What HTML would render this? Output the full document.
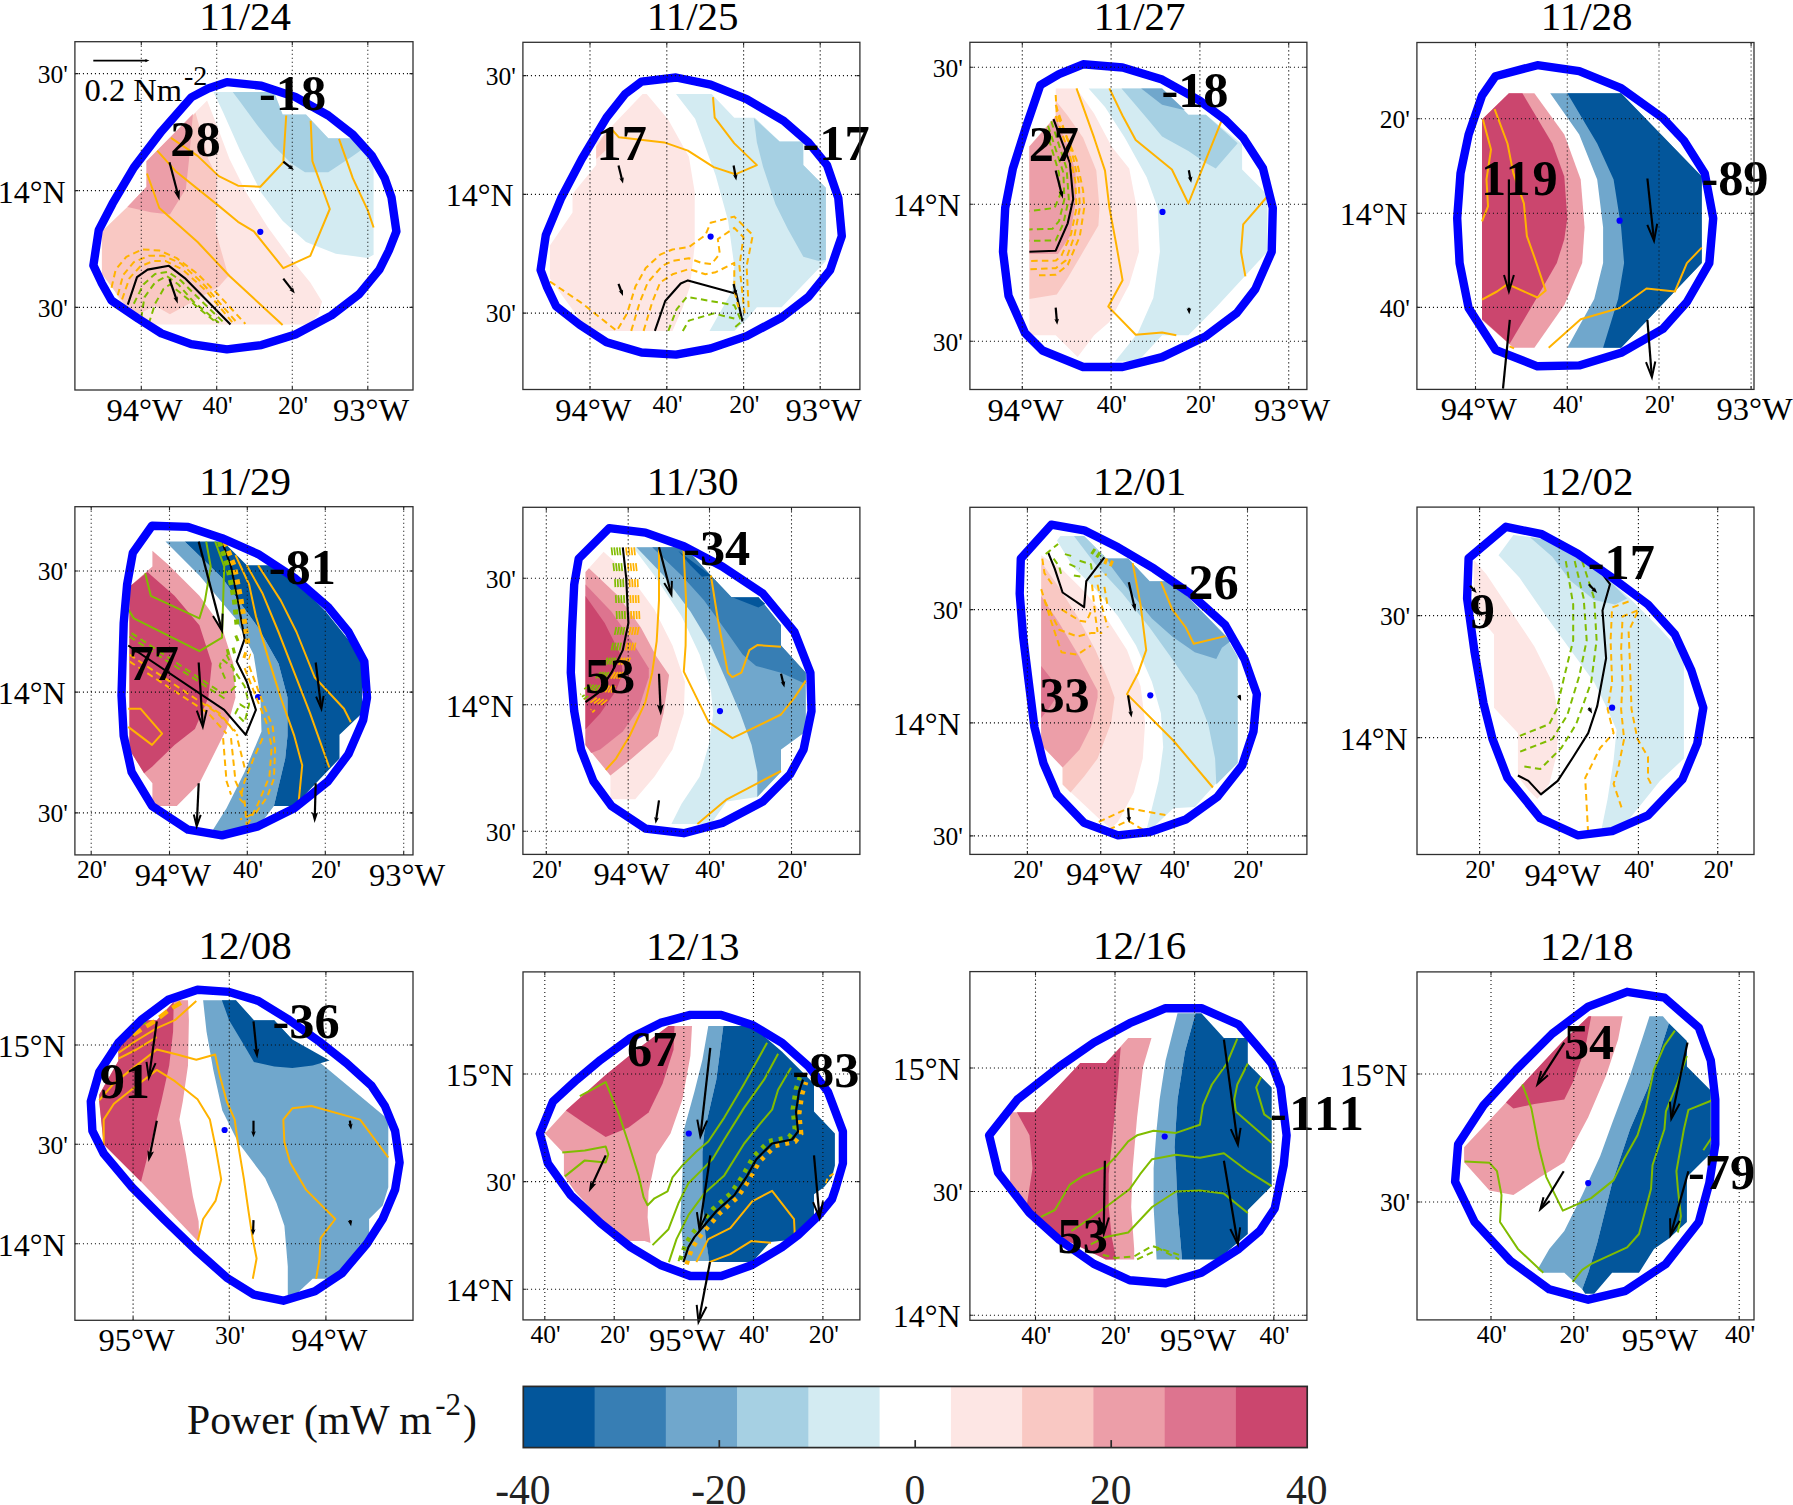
<!DOCTYPE html>
<html lang="en"><head><meta charset="utf-8"><title>Power maps</title>
<style>html,body{margin:0;padding:0;background:#fff}svg{display:block}</style></head>
<body>
<svg width="1793" height="1505" viewBox="0 0 1793 1505" font-family="'Liberation Serif', serif" fill="#000">
<rect width="1793" height="1505" fill="#fff"/>
<g id="panel1">
<clipPath id="c1"><polygon points="226.9,82.1 261.4,85.7 295.4,97 328.3,115.5 352.8,134.6 371.9,155.9 384.7,178.2 391.5,197.3 396.4,231.4 388.9,250.5 379.4,269.6 359.2,294.1 331.5,315.4 295.4,334.5 261.4,345.1 226.9,349.4 191.2,344.1 161.4,333.4 138,318.5 111.5,300.5 101.9,283.5 93.4,265.4 98.7,230.3 112.5,203.7 133.8,167.6 161.4,131.4 191.2,97.4 208.2,88.5"/></clipPath>
<clipPath id="b1"><rect x="74.9" y="41.7" width="338.1" height="348.3"/></clipPath>
<g clip-path="url(#c1)">
<polygon points="207.1,100.6 216.7,125.1 229.5,159.1 246.5,193.1 267.7,227.1 291.1,259 310.3,282.4 322,301.5 318.8,314.3 309.2,324.5 155.1,324.5 123.2,307.9 101.9,265.4 101.9,231.4 127.4,206.9 146.5,186.7 146.5,161.2 195.5,112.3" fill="#fde6e4"/>
<polygon points="195.5,112.7 200.8,131.4 208.2,159.1 216.7,176.1 215.7,231.4 228.4,276 218.8,286.7 189.1,303.7 169.9,314.3 155.1,305.8 133.8,316.4 101.9,273.9 101.9,231.4 127.4,206.9 146.5,186.7 146.5,161.2" fill="#f9c8c3"/>
<polygon points="146.5,161.2 192.9,114 189.1,159.1 185.9,188.8 169.9,214.4 150.8,212.2 127.4,206.9 146.5,186.7" fill="#ec9ea8"/>
<polygon points="213.5,92.1 274.1,92.1 282.6,114.4 306,114.4 328.3,138.2 352.8,138.2 373.6,159.1 373.6,254.8 367.7,257.9 335.8,253.7 306,242 282.6,220.7 261.4,193.1 240.1,150.6 223.1,112.3" fill="#d3ebf2"/>
<polygon points="232.7,92.1 274.1,92.1 282.6,114.4 306,114.4 328.3,138.2 352.8,138.2 363.4,148.4 352.8,155.9 328.3,172.3 305,172.3 291.1,163.3 274.1,146.3 257.1,125.1 240.1,101.7" fill="#a6d0e3"/>
</g>
<circle cx="260.3" cy="231.8" r="3.1" fill="#0000ff"/>
<g clip-path="url(#c1)">
<polyline points="171,137.8 197.6,155.9 218.8,176.1 238,185.7 260.3,186.7 283.3,162.3 286.2,115.5" fill="none" stroke="#ffb300" stroke-width="2" stroke-linejoin="round"/>
<polyline points="157.2,150.6 176.3,171.8 218.8,205.9 238,221.8 253.9,231.4 283.3,268.2 310.3,255.8 329.8,209 312.4,161.2 310.7,120.8" fill="none" stroke="#ffb300" stroke-width="2" stroke-linejoin="round"/>
<polyline points="147,173.5 159.3,208 197.6,242 229.5,276 282.6,324.9" fill="none" stroke="#ffb300" stroke-width="2" stroke-linejoin="round"/>
<polyline points="339,138.9 352.8,178.2 367.7,210.1 373.6,227.5" fill="none" stroke="#ffb300" stroke-width="2" stroke-linejoin="round"/>
<polyline points="127.8,304.7 137,277.1 147.6,269.6 168.9,265.8 184.8,278.1 230.5,324.5" fill="none" stroke="#000" stroke-width="2.1" stroke-linejoin="round"/>
<polyline points="111.5,287.7 115.7,269.6 126.3,256.9 142.3,249.4 159.3,250.5 176.3,257.9 197.6,273.9 218.8,295.2 245.4,323.9" fill="none" stroke="#ffb300" stroke-width="2" stroke-dasharray="6.5 4.2" stroke-linejoin="round"/>
<polyline points="117.8,295.2 123.2,275 133.8,262.2 148.7,255.8 163.6,255.8 180.6,263.3 201.8,282.4 238,323.9" fill="none" stroke="#ffb300" stroke-width="2" stroke-dasharray="6.5 4.2" stroke-linejoin="round"/>
<polyline points="122.1,299.4 129.5,278.1 140.2,266.5 152.9,261.1 165.7,261.1 182.7,269.6 206.1,290.9 233.7,323.9" fill="none" stroke="#ffb300" stroke-width="2" stroke-dasharray="6.5 4.2" stroke-linejoin="round"/>
<polyline points="133.8,303.7 143.4,284.5 155.1,273.9 167.8,271.8 180.6,280.3 197.6,297.3 225.2,323.9" fill="none" stroke="#80bc00" stroke-width="2" stroke-dasharray="6.5 4.2" stroke-linejoin="round"/>
<polyline points="141.2,318.5 144.4,297.3 155.1,282.4 166.7,276 178.4,284.5 193.3,301.5 218.8,322.8" fill="none" stroke="#80bc00" stroke-width="2" stroke-dasharray="6.5 4.2" stroke-linejoin="round"/>
<polyline points="148.7,323.9 155.1,303.7 163.6,288.8 169.9,284.5 180.6,293 206.1,314.3 216.7,322.8" fill="none" stroke="#80bc00" stroke-width="2" stroke-dasharray="6.5 4.2" stroke-linejoin="round"/>
</g>
<polygon points="226.9,82.1 261.4,85.7 295.4,97 328.3,115.5 352.8,134.6 371.9,155.9 384.7,178.2 391.5,197.3 396.4,231.4 388.9,250.5 379.4,269.6 359.2,294.1 331.5,315.4 295.4,334.5 261.4,345.1 226.9,349.4 191.2,344.1 161.4,333.4 138,318.5 111.5,300.5 101.9,283.5 93.4,265.4 98.7,230.3 112.5,203.7 133.8,167.6 161.4,131.4 191.2,97.4 208.2,88.5" fill="none" stroke="#0000ff" stroke-width="8.4" stroke-linejoin="round"/>
<path d="M141.3 41.7V390M216.7 41.7V390M292.3 41.7V390M367.8 41.7V390M74.9 73.6H413M74.9 190.6H413M74.9 307.4H413" stroke="#111" stroke-width="1.1" stroke-dasharray="1.1 2.9" fill="none"/>
<path d="M141.3 41.7v3.5M141.3 390v-3.5M216.7 41.7v3.5M216.7 390v-3.5M292.3 41.7v3.5M292.3 390v-3.5M367.8 41.7v3.5M367.8 390v-3.5M74.9 73.6h3.5M413 73.6h-3.5M74.9 190.6h3.5M413 190.6h-3.5M74.9 307.4h3.5M413 307.4h-3.5" stroke="#222" stroke-width="1.1" fill="none"/>
<text x="259" y="110.1" font-size="50.3" font-weight="bold">-18</text>
<text x="170.3" y="155.8" font-size="50.3" font-weight="bold">28</text>
<line x1="169.5" y1="162.3" x2="177.9" y2="194.3" stroke="#000" stroke-width="2.2"/><polygon points="179.5,200.5 173.7,191 177.3,192.3 179.9,189.4" fill="#000"/>
<line x1="283.3" y1="161.6" x2="291.1" y2="167.9" stroke="#000" stroke-width="2.2"/><polygon points="293.9,170.1 287.8,168.2 290.2,167.1 290.7,164.6" fill="#000"/>
<line x1="283.3" y1="278.6" x2="292.6" y2="290.6" stroke="#000" stroke-width="2.2"/><polygon points="294.8,293.5 289.3,290.1 291.8,289.7 292.9,287.3" fill="#000"/>
<line x1="169.5" y1="279.2" x2="176.5" y2="299.7" stroke="#000" stroke-width="2.2"/><polygon points="177.8,303.7 173.4,297.8 176,298.4 177.7,296.3" fill="#000"/>
<line x1="93.3" y1="60.6" x2="146.8" y2="60.6" stroke="#000" stroke-width="1.9"/><polygon points="149.5,60.6 145,62.2 145.9,60.6 145,59" fill="#000"/>
<text x="84.5" y="101" font-size="32.5">0.2 Nm<tspan dx="2" dy="-16.5" font-size="28">-2</tspan></text>
<rect x="74.9" y="41.7" width="338.1" height="348.3" fill="none" stroke="#303030" stroke-width="1.3"/>
<text x="245.1" y="29.5" font-size="41" text-anchor="middle">11/24</text>
<text x="144.7" y="421" font-size="32.5" text-anchor="middle">94°W</text>
<text x="217.5" y="413.5" font-size="25.5" text-anchor="middle">40'</text>
<text x="293.1" y="413.5" font-size="25.5" text-anchor="middle">20'</text>
<text x="371.2" y="421" font-size="32.5" text-anchor="middle">93°W</text>
<text x="67.9" y="82.9" font-size="25.5" text-anchor="end">30'</text>
<text x="65.6" y="202.6" font-size="32" text-anchor="end">14°N</text>
<text x="67.9" y="316.7" font-size="25.5" text-anchor="end">30'</text>
</g>
<g id="panel2">
<clipPath id="c2"><polygon points="676,77.5 710.6,84.7 746.6,99.1 783.7,120.8 808.4,142.4 827,165.1 838.3,198 841.8,236.1 830.1,270.1 808.4,296.9 781.6,317.5 746.6,336.1 710.6,348.4 676,354.6 641.5,352.5 606.5,342.2 579.7,324.7 556.1,306.2 546.8,286.6 540.6,270.1 545.8,235.1 561.2,198 581.8,158.9 606.5,117.7 625.1,94 641.5,81.6"/></clipPath>
<clipPath id="b2"><rect x="522.9" y="42.3" width="337" height="347.2"/></clipPath>
<g clip-path="url(#c2)">
<polygon points="642.6,94 646.7,94 668.3,119.7 688.9,156.8 694.7,191.9 694.7,245.4 690,286.6 682.8,307.2 672.5,330.9 588,330.9 549.9,278.4 549.9,245.4 572.5,212.5 572.5,193.9 596.2,165.1 596.2,142.4 618.9,118.7" fill="#fde6e4"/>
<polygon points="596.2,146.5 606.5,132.1 605.5,150.6 596.2,158.9" fill="#f9c8c3"/>
<polygon points="676,94 711.6,94 734.3,117.7 754.9,117.7 779.6,141.4 803.3,141.4 803.3,165.1 825.9,187.7 825.9,260.9 781.6,307.2 756.9,307.2 746.6,319.6 734.3,330.9 709.5,330.9 732.2,290.7 734.3,266 728.1,220.7 715.7,175.4 695.1,118.7" fill="#d3ebf2"/>
<polygon points="753.8,118.1 779.6,141.4 803.3,141.4 803.3,165.1 825.9,187.7 825.9,259.8 818.7,260.9 803.3,256.7 787.8,228.9 775.5,204.2 763.1,167.1 756.9,142.4" fill="#a6d0e3"/>
</g>
<circle cx="710.6" cy="236.6" r="3.1" fill="#0000ff"/>
<g clip-path="url(#c2)">
<polyline points="610.6,128 618.9,137.3 664.2,142.4 687.9,150.6 713.7,167.1 735.3,174.3 756.9,165.1 734.3,143.4 714.7,117.7 713,97.1" fill="none" stroke="#ffb300" stroke-width="2" stroke-linejoin="round"/>
<polyline points="654.9,330.9 665.2,301 680.7,283.5 687.9,280.4 736.3,293.8 742.5,321.6" fill="none" stroke="#000" stroke-width="2.1" stroke-linejoin="round"/>
<polyline points="549.9,281.5 581.8,303.1 616.8,330.9 627.1,313.4 635.4,286.6 645.7,268.1 660.1,254.7 672.5,249.5 688.9,247.1 705.4,235.1 710.6,222.8 734.3,216.6 752.8,235.1 746.6,266 748.7,309.3" fill="none" stroke="#ffb300" stroke-width="2" stroke-dasharray="6.5 4.2" stroke-linejoin="round"/>
<polyline points="631.2,330.9 639.5,303.1 647.7,282.5 662.2,266 672.5,260.9 688.9,258.2 701.3,262.9 711.6,264 719.8,253.7 717.8,239.2 734.3,227.9 743.5,237.2 739.4,266 744.6,313.4" fill="none" stroke="#ffb300" stroke-width="2" stroke-dasharray="6.5 4.2" stroke-linejoin="round"/>
<polyline points="643.6,330.9 651.9,303.1 660.1,282.5 672.5,274.3 688.9,269.1 705.4,274.3 715.7,272.2 734.3,262.9 734.3,290.7 738.4,307.2" fill="none" stroke="#ffb300" stroke-width="2" stroke-dasharray="6.5 4.2" stroke-linejoin="round"/>
<polyline points="668.3,330.9 676.6,309.3 686.9,296.9 734.3,305.2 741.5,321.6 734.3,327.8" fill="none" stroke="#80bc00" stroke-width="2" stroke-dasharray="6.5 4.2" stroke-linejoin="round"/>
<polyline points="682.8,330.9 688.9,320.6 713.7,313.4 734.3,318.5" fill="none" stroke="#80bc00" stroke-width="2" stroke-dasharray="6.5 4.2" stroke-linejoin="round"/>
</g>
<polygon points="676,77.5 710.6,84.7 746.6,99.1 783.7,120.8 808.4,142.4 827,165.1 838.3,198 841.8,236.1 830.1,270.1 808.4,296.9 781.6,317.5 746.6,336.1 710.6,348.4 676,354.6 641.5,352.5 606.5,342.2 579.7,324.7 556.1,306.2 546.8,286.6 540.6,270.1 545.8,235.1 561.2,198 581.8,158.9 606.5,117.7 625.1,94 641.5,81.6" fill="none" stroke="#0000ff" stroke-width="8.4" stroke-linejoin="round"/>
<path d="M590 42.3V389.5M666.8 42.3V389.5M743.6 42.3V389.5M820.2 42.3V389.5M522.9 75.6H859.9M522.9 194.4H859.9M522.9 313.1H859.9" stroke="#111" stroke-width="1.1" stroke-dasharray="1.1 2.9" fill="none"/>
<path d="M590 42.3v3.5M590 389.5v-3.5M666.8 42.3v3.5M666.8 389.5v-3.5M743.6 42.3v3.5M743.6 389.5v-3.5M820.2 42.3v3.5M820.2 389.5v-3.5M522.9 75.6h3.5M859.9 75.6h-3.5M522.9 194.4h3.5M859.9 194.4h-3.5M522.9 313.1h3.5M859.9 313.1h-3.5" stroke="#222" stroke-width="1.1" fill="none"/>
<text x="596.6" y="159.9" font-size="50.3" font-weight="bold">17</text>
<text x="802.6" y="159.9" font-size="50.3" font-weight="bold">-17</text>
<line x1="618.5" y1="165.5" x2="622.1" y2="180.1" stroke="#000" stroke-width="2.2"/><polygon points="623,183.6 619.3,178.3 621.8,179 623.8,177.2" fill="#000"/>
<line x1="733.6" y1="165.5" x2="735.7" y2="177" stroke="#000" stroke-width="2.2"/><polygon points="736.3,180.5 733,175 735.5,175.8 737.5,174.2" fill="#000"/>
<line x1="618.5" y1="283.9" x2="621.7" y2="292.5" stroke="#000" stroke-width="2.2"/><polygon points="623,295.9 618.7,291.1 621.3,291.4 623,289.5" fill="#000"/>
<line x1="733.6" y1="283.9" x2="735.5" y2="292.4" stroke="#000" stroke-width="2.2"/><polygon points="736.3,295.9 732.8,290.5 735.3,291.2 737.2,289.5" fill="#000"/>
<rect x="522.9" y="42.3" width="337" height="347.2" fill="none" stroke="#303030" stroke-width="1.3"/>
<text x="692.6" y="30.1" font-size="41" text-anchor="middle">11/25</text>
<text x="593.4" y="420.5" font-size="32.5" text-anchor="middle">94°W</text>
<text x="667.6" y="413" font-size="25.5" text-anchor="middle">40'</text>
<text x="744.4" y="413" font-size="25.5" text-anchor="middle">20'</text>
<text x="823.6" y="420.5" font-size="32.5" text-anchor="middle">93°W</text>
<text x="515.9" y="84.9" font-size="25.5" text-anchor="end">30'</text>
<text x="513.6" y="206.4" font-size="32" text-anchor="end">14°N</text>
<text x="515.9" y="322.4" font-size="25.5" text-anchor="end">30'</text>
</g>
<g id="panel3">
<clipPath id="c3"><polygon points="1083.1,64.3 1122.6,67.5 1162.1,79.6 1199.3,100.4 1225.7,120.2 1243.2,137.7 1263,168.4 1272.8,207.9 1271.7,251.8 1255.3,289.1 1236.6,313.2 1205.9,336.2 1162.1,357.1 1122.6,367 1083.1,367 1042.5,350.5 1025,333 1008.5,295.7 1003,251.8 1005.2,207.9 1012.9,168.4 1026.1,126.8 1040.3,85.1 1059,74.1"/></clipPath>
<clipPath id="b3"><rect x="969.9" y="42.3" width="337" height="347.2"/></clipPath>
<g clip-path="url(#c3)">
<polygon points="1055.7,88.4 1076.5,88.4 1094.1,113.6 1111.6,146.5 1129.2,168.4 1136.8,207.9 1139,251.8 1129.2,284.7 1109.4,322 1094.1,335.2 1077.6,357.1 1055.7,335.2 1029.4,335.2 1029.4,146.5 1055.7,115.8" fill="#fde6e4"/>
<polygon points="1055.7,100.4 1067.7,115.8 1083.1,137.7 1096.3,170.6 1099.5,207.9 1098.4,225.5 1083.1,251.8 1067.7,278.1 1056.8,294.6 1029.4,299 1029.4,146.5 1055.7,115.8" fill="#f9c8c3"/>
<polygon points="1029.4,146.5 1055.7,116.9 1067.7,146.5 1075.4,170.6 1076.1,199.2 1069.9,236.4 1057.9,254 1029.4,254" fill="#ec9ea8"/>
<polygon points="1088.6,88.4 1162.1,88.4 1188.4,114.7 1205.9,114.7 1242.1,144.3 1242.1,169.5 1267.3,194.8 1267.3,251.8 1243.2,278.1 1216.9,306.6 1188.4,335.2 1162.1,335.2 1137.9,361.5 1114.9,361.5 1137.9,333 1153.3,297.9 1159.9,251.8 1157.7,207.9 1146.7,177.2 1124.8,137.7 1105,107" fill="#d3ebf2"/>
<polygon points="1121.5,88.4 1162.1,88.4 1188.4,114.7 1205.9,114.7 1237.7,143.2 1215.8,168.4 1205.9,163 1188.4,150.9 1162.1,136.6 1146.7,118 1133.5,102.6" fill="#a6d0e3"/>
<polygon points="1141.2,88.4 1162.1,88.4 1185.1,110.3 1162.1,104.8" fill="#70a7cc"/>
</g>
<circle cx="1162.5" cy="211.9" r="3.1" fill="#0000ff"/>
<g clip-path="url(#c3)">
<polyline points="1076.5,88.4 1094.1,137.7 1105,170.6 1109.4,207.9 1116,243 1122.6,280.3 1108.3,306.6 1135.7,334.7 1162.1,332.5 1176.3,335.2" fill="none" stroke="#ffb300" stroke-width="2" stroke-linejoin="round"/>
<polyline points="1109.4,88.4 1122.6,115.8 1135.7,139.9 1171.9,169.5 1188.4,203.5 1205.9,159.7 1221.3,121.3" fill="none" stroke="#ffb300" stroke-width="2" stroke-linejoin="round"/>
<polyline points="1266.9,197 1243.2,224.4 1241,251.8 1245.4,276.4" fill="none" stroke="#ffb300" stroke-width="2" stroke-linejoin="round"/>
<polyline points="1053.5,119.1 1069.9,163 1073.2,199.2 1067.7,223.3 1055.7,250.7 1029.4,251.8" fill="none" stroke="#000" stroke-width="2.1" stroke-linejoin="round"/>
<polyline points="1055.7,95 1056.8,113.6 1076.5,159.7 1083.1,190.4 1084.2,207.9 1079.8,236.4 1067.7,265 1055.7,274.8 1034.8,275.5" fill="none" stroke="#ffb300" stroke-width="2" stroke-dasharray="6.5 4.2" stroke-linejoin="round"/>
<polyline points="1055.7,104.8 1072.1,153.1 1078.7,181.6 1079.8,207.9 1074.3,236.4 1065.5,260.6 1055.7,268.2 1029.4,269.3" fill="none" stroke="#ffb300" stroke-width="2" stroke-dasharray="6.5 4.2" stroke-linejoin="round"/>
<polyline points="1055.7,115.8 1069.9,155.3 1075.4,181.6 1076.5,207.9 1071,234.3 1061.2,256.2 1055.7,260.6 1029.4,261" fill="none" stroke="#ffb300" stroke-width="2" stroke-dasharray="6.5 4.2" stroke-linejoin="round"/>
<polyline points="1051.3,121.3 1066.6,168.4 1068.8,199.2 1063.4,223.3 1055.7,240.4 1029.4,240.8" fill="none" stroke="#80bc00" stroke-width="2" stroke-dasharray="6.5 4.2" stroke-linejoin="round"/>
<polyline points="1048,125.7 1063.4,172.8 1064.4,199.2 1059,221.1 1052.4,228.8 1029.4,229.4" fill="none" stroke="#80bc00" stroke-width="2" stroke-dasharray="6.5 4.2" stroke-linejoin="round"/>
<polyline points="1045.8,129 1059,172.8 1060.1,194.8 1054.6,207.9 1029.4,211.2" fill="none" stroke="#80bc00" stroke-width="2" stroke-dasharray="6.5 4.2" stroke-linejoin="round"/>
</g>
<polygon points="1083.1,64.3 1122.6,67.5 1162.1,79.6 1199.3,100.4 1225.7,120.2 1243.2,137.7 1263,168.4 1272.8,207.9 1271.7,251.8 1255.3,289.1 1236.6,313.2 1205.9,336.2 1162.1,357.1 1122.6,367 1083.1,367 1042.5,350.5 1025,333 1008.5,295.7 1003,251.8 1005.2,207.9 1012.9,168.4 1026.1,126.8 1040.3,85.1 1059,74.1" fill="none" stroke="#0000ff" stroke-width="8.4" stroke-linejoin="round"/>
<path d="M1022.3 42.3V389.5M1111.1 42.3V389.5M1199.9 42.3V389.5M1288.7 42.3V389.5M969.9 67.3H1306.9M969.9 204.2H1306.9M969.9 341.2H1306.9" stroke="#111" stroke-width="1.1" stroke-dasharray="1.1 2.9" fill="none"/>
<path d="M1022.3 42.3v3.5M1022.3 389.5v-3.5M1111.1 42.3v3.5M1111.1 389.5v-3.5M1199.9 42.3v3.5M1199.9 389.5v-3.5M1288.7 42.3v3.5M1288.7 389.5v-3.5M969.9 67.3h3.5M1306.9 67.3h-3.5M969.9 204.2h3.5M1306.9 204.2h-3.5M969.9 341.2h3.5M1306.9 341.2h-3.5" stroke="#222" stroke-width="1.1" fill="none"/>
<text x="1028.7" y="160.7" font-size="50.3" font-weight="bold">27</text>
<text x="1161.4" y="106.9" font-size="50.3" font-weight="bold">-18</text>
<line x1="1055.7" y1="170.6" x2="1061.7" y2="194.2" stroke="#000" stroke-width="2.2"/><polygon points="1062.9,198.7 1058.7,191.7 1061.3,192.7 1063.2,190.5" fill="#000"/>
<line x1="1188.8" y1="170.2" x2="1190.5" y2="179.2" stroke="#000" stroke-width="2.2"/><polygon points="1191.2,182.7 1187.8,177.2 1190.3,178 1192.4,176.4" fill="#000"/>
<line x1="1055.7" y1="307.7" x2="1056.9" y2="321.3" stroke="#000" stroke-width="2.2"/><polygon points="1057.2,324.8 1054.4,319.1 1056.8,320.1 1059,318.7" fill="#000"/>
<line x1="1188.8" y1="307.7" x2="1189" y2="310.7" stroke="#000" stroke-width="2.2"/><polygon points="1189.3,314.3 1186.6,308.5 1188.9,309.5 1191.2,308.2" fill="#000"/>
<rect x="969.9" y="42.3" width="337" height="347.2" fill="none" stroke="#303030" stroke-width="1.3"/>
<text x="1139.6" y="30.1" font-size="41" text-anchor="middle">11/27</text>
<text x="1025.7" y="420.5" font-size="32.5" text-anchor="middle">94°W</text>
<text x="1111.9" y="413" font-size="25.5" text-anchor="middle">40'</text>
<text x="1200.7" y="413" font-size="25.5" text-anchor="middle">20'</text>
<text x="1292.1" y="420.5" font-size="32.5" text-anchor="middle">93°W</text>
<text x="962.9" y="76.6" font-size="25.5" text-anchor="end">30'</text>
<text x="960.6" y="216.2" font-size="32" text-anchor="end">14°N</text>
<text x="962.9" y="350.5" font-size="25.5" text-anchor="end">30'</text>
</g>
<g id="panel4">
<clipPath id="c4"><polygon points="1537.4,65.2 1579.2,71.2 1621.1,88.2 1662.9,118.1 1683.9,140.5 1704.8,173.4 1713.2,218.3 1709.3,263.1 1686.9,302 1662.9,328.9 1621.1,352.8 1579.2,365.4 1537.4,366.3 1495.5,349.8 1468.6,308 1459.6,263.1 1457.2,218.3 1460.5,173.4 1468.6,134.6 1482,95.7 1495.5,76.2"/></clipPath>
<clipPath id="b4"><rect x="1416.9" y="42.5" width="337.1" height="346.9"/></clipPath>
<g clip-path="url(#c4)">
<polygon points="1508.9,93.3 1534.4,93.3 1564.3,134.6 1580.7,179.4 1584.6,227.2 1582.2,263.1 1564.3,305 1534.4,347.7 1513.4,347.7 1482,319.9 1482,119.6" fill="#ec9ea8"/>
<polygon points="1508.9,93.3 1522.4,93.3 1552.3,143.5 1564.3,176.4 1567.3,218.3 1564.3,239.2 1556.8,263.1 1534.4,302 1509.5,343.9 1482,319.3 1482,119.6" fill="#cb466e"/>
<polygon points="1550.2,93.3 1621.1,93.3 1701.8,176.4 1701.8,263.1 1621.1,347.7 1567.3,347.7 1594.2,299 1603.1,263.1 1603.1,227.2 1597.2,179.4 1579.2,134.6" fill="#70a7cc"/>
<polygon points="1567.3,93.3 1621.1,93.3 1701.8,176.4 1701.8,263.1 1621.1,347.7 1603.1,347.7 1618.1,299 1624.1,263.1 1621.1,227.2 1613.6,179.4 1597.2,143.5" fill="#03569b"/>
</g>
<circle cx="1619.6" cy="220.7" r="3.1" fill="#0000ff"/>
<g clip-path="url(#c4)">
<polyline points="1482.9,119.6 1491,149.5 1486.5,179.4 1488,206.3 1482,221.3" fill="none" stroke="#ffb300" stroke-width="2" stroke-linejoin="round"/>
<polyline points="1494.6,109.1 1507.5,143.5 1513.4,173.4 1523.9,203.3 1526.9,236.2 1534.4,257.1 1545.7,290.6 1537.4,297.5 1507.5,284.1 1497,291.5 1482,299.6" fill="none" stroke="#ffb300" stroke-width="2" stroke-linejoin="round"/>
<polyline points="1509.5,346.3 1514,348.3" fill="none" stroke="#ffb300" stroke-width="2" stroke-linejoin="round"/>
<polyline points="1548.7,347.7 1580.7,319.3 1619.6,308 1646.5,288.5 1674.9,291.5 1686.9,263.1 1701.8,247.6" fill="none" stroke="#ffb300" stroke-width="2" stroke-linejoin="round"/>
</g>
<polygon points="1537.4,65.2 1579.2,71.2 1621.1,88.2 1662.9,118.1 1683.9,140.5 1704.8,173.4 1713.2,218.3 1709.3,263.1 1686.9,302 1662.9,328.9 1621.1,352.8 1579.2,365.4 1537.4,366.3 1495.5,349.8 1468.6,308 1459.6,263.1 1457.2,218.3 1460.5,173.4 1468.6,134.6 1482,95.7 1495.5,76.2" fill="none" stroke="#0000ff" stroke-width="8.4" stroke-linejoin="round"/>
<path d="M1475.5 42.5V389.4M1567.3 42.5V389.4M1659 42.5V389.4M1751.1 42.5V389.4M1416.9 118.7H1754M1416.9 213.2H1754M1416.9 307.4H1754" stroke="#111" stroke-width="1.1" stroke-dasharray="1.1 2.9" fill="none"/>
<path d="M1475.5 42.5v3.5M1475.5 389.4v-3.5M1567.3 42.5v3.5M1567.3 389.4v-3.5M1659 42.5v3.5M1659 389.4v-3.5M1751.1 42.5v3.5M1751.1 389.4v-3.5M1416.9 118.7h3.5M1754 118.7h-3.5M1416.9 213.2h3.5M1754 213.2h-3.5M1416.9 307.4h3.5M1754 307.4h-3.5" stroke="#222" stroke-width="1.1" fill="none"/>
<text x="1481.1" y="195.4" font-size="50.3" font-weight="bold" letter-spacing="2">119</text>
<text x="1701.4" y="195.4" font-size="50.3" font-weight="bold">-89</text>
<line x1="1508.9" y1="179.4" x2="1508.9" y2="289.5" stroke="#000" stroke-width="2.2"/><polyline points="1504,275 1508.9,291.5 1513.9,275" fill="none" stroke="#000" stroke-width="2" stroke-linejoin="miter"/>
<line x1="1647.4" y1="178.5" x2="1653.8" y2="238.7" stroke="#000" stroke-width="2.2"/><polyline points="1647.3,224.8 1654,240.7 1657.2,223.8" fill="none" stroke="#000" stroke-width="2" stroke-linejoin="miter"/>
<line x1="1509.8" y1="319.9" x2="1503" y2="388.7" stroke="#000" stroke-width="2.2"/>
<line x1="1647.4" y1="319.9" x2="1651.7" y2="375.4" stroke="#000" stroke-width="2.2"/><polyline points="1646,362.2 1651.9,377.3 1655.3,361.5" fill="none" stroke="#000" stroke-width="2" stroke-linejoin="miter"/>
<rect x="1416.9" y="42.5" width="337.1" height="346.9" fill="none" stroke="#303030" stroke-width="1.3"/>
<text x="1586.7" y="30.3" font-size="41" text-anchor="middle">11/28</text>
<text x="1478.9" y="420.4" font-size="32.5" text-anchor="middle">94°W</text>
<text x="1568.1" y="412.9" font-size="25.5" text-anchor="middle">40'</text>
<text x="1659.8" y="412.9" font-size="25.5" text-anchor="middle">20'</text>
<text x="1754.5" y="420.4" font-size="32.5" text-anchor="middle">93°W</text>
<text x="1409.9" y="128" font-size="25.5" text-anchor="end">20'</text>
<text x="1407.6" y="225.2" font-size="32" text-anchor="end">14°N</text>
<text x="1409.9" y="316.7" font-size="25.5" text-anchor="end">40'</text>
</g>
<g id="panel5">
<clipPath id="c5"><polygon points="152,525.8 188.1,526.9 222,538.2 258.1,554.1 294.3,577.8 328.2,607.1 348.5,632 364.3,661.4 367,697.5 363.2,720.1 348.5,754 328.2,781.1 294.3,808.2 258.1,826.3 222,835.3 188.1,829.7 152,805.9 131.6,772 123.7,735.9 121.5,695.2 123.7,623 127.1,584.5 132.8,552.9"/></clipPath>
<clipPath id="b5"><rect x="74.9" y="506.7" width="338.1" height="348.2"/></clipPath>
<g clip-path="url(#c5)">
<polygon points="152.4,550.7 167.8,564.2 199.4,595.8 222,627.5 233.3,663.6 235.5,697.5 226.5,729.1 199.4,783.3 176.8,805.9 152.4,805.9 152.4,783.3 144.1,773.2 129.4,749.5 129.4,586.8 152.4,566.5" fill="#ec9ea8"/>
<polygon points="129.4,586.8 147.4,572.1 174.5,595.8 199.4,625.2 211.8,663.6 208.4,697.5 194.9,729.1 174.5,744.9 152.4,766.4 144.1,773.2 129.4,749.5" fill="#cb466e"/>
<polygon points="165.5,541.6 184.7,541.6 222,577.8 258.1,627.5 278.5,663.6 287.5,697.5 287.5,735.9 285.2,758.5 273.9,805.9 267.2,815 258.1,826.3 222,835.3 213,829.7 226.5,808.2 244.6,772 261.5,731.4 260.4,697.5 253.6,654.6 235.5,618.4 199.4,575.5" fill="#70a7cc"/>
<polygon points="184.7,541.6 223.1,541.6 246.8,565.3 280.7,565.3 325.9,611.7 362,656.8 362,713.3 339.5,734.8 339.5,758.5 294.3,805.9 273.9,805.9 285.2,758.5 287.5,735.9 287.5,697.5 278.5,663.6 258.1,627.5 222,577.8" fill="#03569b"/>
</g>
<circle cx="258.1" cy="697" r="3.1" fill="#0000ff"/>
<g clip-path="url(#c5)">
<polyline points="235.5,555.2 249.1,584.5 255.9,616.2 267.2,654.6 280.7,697.5 294.3,735.9 302.2,765.3 298.8,800.3" fill="none" stroke="#ffb300" stroke-width="2" stroke-linejoin="round"/>
<polyline points="246.8,565.3 262.6,593.6 278.5,632 294.3,672.6 310.1,713.3 329.3,767.5" fill="none" stroke="#ffb300" stroke-width="2" stroke-linejoin="round"/>
<polyline points="258.1,565.3 280.7,600.4 296.5,632 314.6,677.2 344,708.8 350.8,722.3" fill="none" stroke="#ffb300" stroke-width="2" stroke-linejoin="round"/>
<polyline points="128.2,708.8 140.7,708.8 162.1,733.6 152,744.9 128.2,726.9" fill="none" stroke="#ffb300" stroke-width="2" stroke-linejoin="round"/>
<polyline points="145.2,573.3 150.8,595.8 199.4,618.4 205,600.4 210.7,566.5 206.2,541.6" fill="none" stroke="#80bc00" stroke-width="2" stroke-linejoin="round"/>
<polyline points="128.2,609.4 133.9,618.4 199.4,651.2 222,637.6 224.2,566.5 215.2,541.6" fill="none" stroke="#80bc00" stroke-width="2" stroke-linejoin="round"/>
<polyline points="222,541.6 231,566.5 237.8,600.4 244.6,638.8 236.7,661.4 246.8,681.7 255.9,709.9 245.7,734.8 224.2,709.9 128.2,645.5" fill="none" stroke="#000" stroke-width="2.1" stroke-linejoin="round"/>
<polyline points="219.3,541.6 227.6,566.5 234.4,600.4 237.3,627.5" fill="none" stroke="#80bc00" stroke-width="5" stroke-dasharray="5 5" stroke-linejoin="round"/>
<polyline points="224.7,541.6 234.4,566.5 241.2,600.4 246.8,636.5 248,645.5" fill="none" stroke="#ffb300" stroke-width="5" stroke-dasharray="5 5" stroke-linejoin="round"/>
<polyline points="235.5,638.8 241.2,636.5" fill="none" stroke="#80bc00" stroke-width="6" stroke-dasharray="3 3" stroke-linejoin="round"/>
<polyline points="226.5,652.3 235.5,650.1" fill="none" stroke="#80bc00" stroke-width="6" stroke-dasharray="3 3" stroke-linejoin="round"/>
<polyline points="243.4,654.6 250.2,656.8" fill="none" stroke="#ffb300" stroke-width="6" stroke-dasharray="3 3" stroke-linejoin="round"/>
<polyline points="129.4,636.5 226.5,699.8" fill="none" stroke="#80bc00" stroke-width="2" stroke-dasharray="6.5 4.2" stroke-linejoin="round"/>
<polyline points="131.6,633.1 222,693 231,690.7 235.5,686.2 233.3,668.1 222,659.1 219.7,665.9 226.5,681.7" fill="none" stroke="#80bc00" stroke-width="2" stroke-dasharray="6.5 4.2" stroke-linejoin="round"/>
<polyline points="226.5,654.6 235.5,672.6 244.6,686.2 249.1,704.3 244.6,722.3 235.5,713.3 240.1,704.3 246.8,708.8" fill="none" stroke="#80bc00" stroke-width="2" stroke-dasharray="6.5 4.2" stroke-linejoin="round"/>
<polyline points="129.4,654.6 217.5,713.3 235.5,731.4" fill="none" stroke="#ffb300" stroke-width="2" stroke-dasharray="6.5 4.2" stroke-linejoin="round"/>
<polyline points="129.4,661.4 208.4,713.3 226.5,733.6" fill="none" stroke="#ffb300" stroke-width="2" stroke-dasharray="6.5 4.2" stroke-linejoin="round"/>
<polyline points="206.2,704.3 219.7,713.3 237.8,735.9" fill="none" stroke="#ffb300" stroke-width="2" stroke-dasharray="6.5 4.2" stroke-linejoin="round"/>
<polyline points="223.1,738.2 226.5,781.1 231,794.6" fill="none" stroke="#ffb300" stroke-width="2" stroke-dasharray="6.5 4.2" stroke-linejoin="round"/>
<polyline points="231,738.2 235.5,781.1 244.6,801.4 246.8,826.3" fill="none" stroke="#ffb300" stroke-width="2" stroke-dasharray="6.5 4.2" stroke-linejoin="round"/>
<polyline points="237.8,740.4 244.6,767.5" fill="none" stroke="#ffb300" stroke-width="2" stroke-dasharray="6.5 4.2" stroke-linejoin="round"/>
<polyline points="244.6,668.1 258.1,702 267.2,724.6 271.7,747.2 269.4,776.6 258.1,803.7 246.8,826.3" fill="none" stroke="#ffb300" stroke-width="2" stroke-dasharray="6.5 4.2" stroke-linejoin="round"/>
<polyline points="249.1,665.9 262.6,702 272.8,726.9 275.1,749.5 273.9,778.8 267.2,796.9 255.9,812.7 240.1,819.5" fill="none" stroke="#ffb300" stroke-width="2" stroke-dasharray="6.5 4.2" stroke-linejoin="round"/>
<polyline points="262.6,738.2 253.6,758.5 244.6,781.1 240.1,799.2 246.8,805.9" fill="none" stroke="#ffb300" stroke-width="2" stroke-dasharray="6.5 4.2" stroke-linejoin="round"/>
</g>
<polygon points="152,525.8 188.1,526.9 222,538.2 258.1,554.1 294.3,577.8 328.2,607.1 348.5,632 364.3,661.4 367,697.5 363.2,720.1 348.5,754 328.2,781.1 294.3,808.2 258.1,826.3 222,835.3 188.1,829.7 152,805.9 131.6,772 123.7,735.9 121.5,695.2 123.7,623 127.1,584.5 132.8,552.9" fill="none" stroke="#0000ff" stroke-width="8.4" stroke-linejoin="round"/>
<path d="M91.2 506.7V854.9M169.5 506.7V854.9M247.3 506.7V854.9M325.3 506.7V854.9M403.7 506.7V854.9M74.9 571H413M74.9 692.1H413M74.9 812.9H413" stroke="#111" stroke-width="1.1" stroke-dasharray="1.1 2.9" fill="none"/>
<path d="M91.2 506.7v3.5M91.2 854.9v-3.5M169.5 506.7v3.5M169.5 854.9v-3.5M247.3 506.7v3.5M247.3 854.9v-3.5M325.3 506.7v3.5M325.3 854.9v-3.5M403.7 506.7v3.5M403.7 854.9v-3.5M74.9 571h3.5M413 571h-3.5M74.9 692.1h3.5M413 692.1h-3.5M74.9 812.9h3.5M413 812.9h-3.5" stroke="#222" stroke-width="1.1" fill="none"/>
<text x="128.7" y="680.4" font-size="50.3" font-weight="bold">77</text>
<text x="268.8" y="584.4" font-size="50.3" font-weight="bold">-81</text>
<line x1="198.7" y1="541.6" x2="221.5" y2="628.9" stroke="#000" stroke-width="2.2"/><polyline points="213,616.1 222,630.9 222.6,613.6" fill="none" stroke="#000" stroke-width="2" stroke-linejoin="miter"/>
<line x1="198.7" y1="662.5" x2="202.7" y2="724.9" stroke="#000" stroke-width="2.2"/><polyline points="196.8,710.7 202.8,726.9 206.7,710.1" fill="none" stroke="#000" stroke-width="2" stroke-linejoin="miter"/>
<line x1="315.7" y1="662.5" x2="321.1" y2="706.8" stroke="#000" stroke-width="2.2"/><polyline points="316.1,696.7 321.4,708.8 323.6,695.8" fill="none" stroke="#000" stroke-width="2" stroke-linejoin="miter"/>
<line x1="198.7" y1="783.3" x2="196.8" y2="824.3" stroke="#000" stroke-width="2.2"/><polyline points="193.8,814.5 196.7,826.3 200.7,814.8" fill="none" stroke="#000" stroke-width="2" stroke-linejoin="miter"/>
<line x1="315.7" y1="783.3" x2="314.8" y2="816.5" stroke="#000" stroke-width="2.2"/><polygon points="314.6,822.9 311.7,812.1 314.9,814.3 318.1,812.3" fill="#000"/>
<rect x="74.9" y="506.7" width="338.1" height="348.2" fill="none" stroke="#303030" stroke-width="1.3"/>
<text x="245.1" y="494.5" font-size="41" text-anchor="middle">11/29</text>
<text x="92" y="878.4" font-size="25.5" text-anchor="middle">20'</text>
<text x="172.9" y="885.9" font-size="32.5" text-anchor="middle">94°W</text>
<text x="248.1" y="878.4" font-size="25.5" text-anchor="middle">40'</text>
<text x="326.1" y="878.4" font-size="25.5" text-anchor="middle">20'</text>
<text x="407.1" y="885.9" font-size="32.5" text-anchor="middle">93°W</text>
<text x="67.9" y="580.3" font-size="25.5" text-anchor="end">30'</text>
<text x="65.6" y="704.1" font-size="32" text-anchor="end">14°N</text>
<text x="67.9" y="822.2" font-size="25.5" text-anchor="end">30'</text>
</g>
<g id="panel6">
<clipPath id="c6"><polygon points="609.2,528.1 645.4,532.6 683.8,546.2 722.2,566.5 762.9,593.6 794.5,632 810.4,672.7 811.5,711.1 803.6,749.5 790,774.4 762.9,801.5 722.2,823 683.8,833.2 645.4,828.6 611.5,806 593.4,781.2 581,749.5 574.2,711.1 570.8,672.7 571.9,632 574.2,584.6 578.7,558.6"/></clipPath>
<clipPath id="b6"><rect x="522.9" y="507.3" width="337" height="347.1"/></clipPath>
<g clip-path="url(#c6)">
<polygon points="603.6,551.8 629.6,575.5 654.4,609.4 672.5,645.6 684.9,681.8 683.8,713.4 672.5,749.5 654.4,776.7 635.2,799.3 610.4,799.3 610.4,775.5 585.5,745 585.5,572.1" fill="#fde6e4"/>
<polygon points="588.9,568.3 618.3,595.9 640.9,627.5 656.7,656.9 669.1,675 663.5,713.4 657.8,736 631.8,758.6 610.4,775.5 585.5,745 585.5,572.1" fill="#ec9ea8"/>
<polygon points="585.5,584.6 611.5,611.7 631.8,641.1 648.8,668.2 648.8,677.2 638.6,708.9 622.8,731.5 600.2,749.5 591.2,752.9 585.5,745" fill="#dd748f"/>
<polygon points="585.5,595.9 604.7,623 620.5,654.6 622.8,672.7 616,690.8 600.2,713.4 585.5,729.2" fill="#cb466e"/>
<polygon points="633,547.3 684.9,547.3 710.9,575.5 731.3,597 758.4,597 781,625.3 781,645.6 805.8,672.7 805.8,731.5 781,749.5 781,772.1 757.3,797 726.8,801.5 710.9,824.1 671.4,824.1 681.6,803.8 699.6,776.7 708.7,745 713.2,713.4 710.9,690.8 699.6,654.6 681.6,616.2 654.4,575.5" fill="#d3ebf2"/>
<polygon points="636.4,547.3 684.9,547.3 710.9,575.5 731.3,597 758.4,597 781,625.3 781,645.6 805.8,672.7 805.8,731.5 781,749.5 781,772.1 757.3,797 757.3,772.1 751.6,745 740.3,713.4 726.8,681.8 710.9,645.6 690.6,611.7 663.5,575.5" fill="#70a7cc"/>
<polygon points="652.2,547.3 684.9,547.3 710.9,575.5 731.3,597 758.4,597 781,625.3 781,645.6 805.8,672.7 805.8,684 781,672.7 756.1,665.9 742.6,654.6 726.8,632 704.2,600.4 681.6,575.5" fill="#377eb4"/>
<polygon points="678.2,550.7 710.9,575.5 701.9,576.7 690.6,565.4" fill="#03569b"/>
<polygon points="733.5,597.7 758.4,597.7 765.2,603.8 758.4,607.6" fill="#03569b"/>
</g>
<circle cx="720" cy="711.1" r="3.1" fill="#0000ff"/>
<g clip-path="url(#c6)">
<polyline points="659,547.3 659,600.4 656.7,641.1 652.2,672.7 645.4,702.1 629.6,736 616,758.6 605.8,769.9" fill="none" stroke="#ffb300" stroke-width="2" stroke-linejoin="round"/>
<polyline points="683.4,547.3 686.1,600.4 685.6,645.6 683.8,671.6 708.7,722.4 732.4,738.2 781,714.5 794.5,697.6 805.8,680.6" fill="none" stroke="#ffb300" stroke-width="2" stroke-linejoin="round"/>
<polyline points="710.9,575.5 717.7,618.5 727.9,672.7 732.4,677.2 741.4,672.7 749.4,650.1 757.3,645.1 781,646.7" fill="none" stroke="#ffb300" stroke-width="2" stroke-linejoin="round"/>
<polyline points="697.4,824.1 726.8,799.3 757.3,783.4 781,771" fill="none" stroke="#ffb300" stroke-width="2" stroke-linejoin="round"/>
<polyline points="622.8,547.3 626.2,577.8 628.4,623 622.8,650.1 611.5,672.7 597.9,693.1 585.5,702.1" fill="none" stroke="#000" stroke-width="2.1" stroke-linejoin="round"/>
<polyline points="611.5,547.3 614.9,577.8 617.1,623 611.5,650.1 600.2,672.7 588.9,686.3 578.7,691.9" fill="none" stroke="#80bc00" stroke-width="1.7" stroke-dasharray="8 8" stroke-linejoin="round"/>
<polyline points="614.2,547.3 617.6,577.8 619.9,623 614.2,650.1 602.9,672.7 591.1,687.9 580.4,694.4" fill="none" stroke="#80bc00" stroke-width="1.7" stroke-dasharray="8 8" stroke-linejoin="round"/>
<polyline points="616.9,547.3 620.3,577.8 622.6,623 616.9,650.1 605.6,672.7 593.2,689.5 582,696.8" fill="none" stroke="#80bc00" stroke-width="1.7" stroke-dasharray="8 8" stroke-linejoin="round"/>
<polyline points="619.6,547.3 623,577.8 625.3,623 619.6,650.1 608.3,672.7 595.4,691.2 583.6,699.2" fill="none" stroke="#80bc00" stroke-width="1.7" stroke-dasharray="8 8" stroke-linejoin="round"/>
<polyline points="626,547.3 629.4,577.8 631.6,623 626,650.1 614.7,672.7 600.5,694.9 587.4,704.9" fill="none" stroke="#ffb300" stroke-width="1.7" stroke-dasharray="8 8" stroke-linejoin="round"/>
<polyline points="628.7,547.3 632.1,577.8 634.3,623 628.7,650.1 617.4,672.7 602.6,696.6 589,707.4" fill="none" stroke="#ffb300" stroke-width="1.7" stroke-dasharray="8 8" stroke-linejoin="round"/>
<polyline points="631.4,547.3 634.8,577.8 637,623 631.4,650.1 620.1,672.7 604.8,698.2 590.7,709.8" fill="none" stroke="#ffb300" stroke-width="1.7" stroke-dasharray="8 8" stroke-linejoin="round"/>
<polyline points="634.1,547.3 637.5,577.8 639.7,623 634.1,650.1 622.8,672.7 607,699.8 592.3,712.3" fill="none" stroke="#ffb300" stroke-width="1.7" stroke-dasharray="8 8" stroke-linejoin="round"/>
</g>
<polygon points="609.2,528.1 645.4,532.6 683.8,546.2 722.2,566.5 762.9,593.6 794.5,632 810.4,672.7 811.5,711.1 803.6,749.5 790,774.4 762.9,801.5 722.2,823 683.8,833.2 645.4,828.6 611.5,806 593.4,781.2 581,749.5 574.2,711.1 570.8,672.7 571.9,632 574.2,584.6 578.7,558.6" fill="none" stroke="#0000ff" stroke-width="8.4" stroke-linejoin="round"/>
<path d="M546.3 507.3V854.4M628.2 507.3V854.4M709.5 507.3V854.4M791.5 507.3V854.4M522.9 578.2H859.9M522.9 704.7H859.9M522.9 831.2H859.9" stroke="#111" stroke-width="1.1" stroke-dasharray="1.1 2.9" fill="none"/>
<path d="M546.3 507.3v3.5M546.3 854.4v-3.5M628.2 507.3v3.5M628.2 854.4v-3.5M709.5 507.3v3.5M709.5 854.4v-3.5M791.5 507.3v3.5M791.5 854.4v-3.5M522.9 578.2h3.5M859.9 578.2h-3.5M522.9 704.7h3.5M859.9 704.7h-3.5M522.9 831.2h3.5M859.9 831.2h-3.5" stroke="#222" stroke-width="1.1" fill="none"/>
<text x="584.9" y="692.9" font-size="50.3" font-weight="bold">53</text>
<text x="683.2" y="565.2" font-size="50.3" font-weight="bold">-34</text>
<line x1="659" y1="547.3" x2="670.9" y2="592.8" stroke="#000" stroke-width="2.2"/><polyline points="664.2,582.9 671.4,594.7 671.9,580.9" fill="none" stroke="#000" stroke-width="2" stroke-linejoin="miter"/>
<line x1="659" y1="673.8" x2="660.5" y2="708.9" stroke="#000" stroke-width="2.2"/><polygon points="660.8,715.6 656.9,704.5 660.4,706.6 663.7,704.2" fill="#000"/>
<line x1="781" y1="673.8" x2="783.5" y2="683.9" stroke="#000" stroke-width="2.2"/><polygon points="784.4,687.4 780.7,682.1 783.2,682.7 785.2,681" fill="#000"/>
<line x1="659" y1="800.4" x2="656.1" y2="819.9" stroke="#000" stroke-width="2.2"/><polygon points="655.6,823.7 654.2,817.1 656.3,818.6 658.8,817.7" fill="#000"/>
<rect x="522.9" y="507.3" width="337" height="347.1" fill="none" stroke="#303030" stroke-width="1.3"/>
<text x="692.6" y="495.1" font-size="41" text-anchor="middle">11/30</text>
<text x="547.1" y="877.9" font-size="25.5" text-anchor="middle">20'</text>
<text x="631.6" y="885.4" font-size="32.5" text-anchor="middle">94°W</text>
<text x="710.3" y="877.9" font-size="25.5" text-anchor="middle">40'</text>
<text x="792.3" y="877.9" font-size="25.5" text-anchor="middle">20'</text>
<text x="515.9" y="587.5" font-size="25.5" text-anchor="end">30'</text>
<text x="513.6" y="716.7" font-size="32" text-anchor="end">14°N</text>
<text x="515.9" y="840.5" font-size="25.5" text-anchor="end">30'</text>
</g>
<g id="panel7">
<clipPath id="c7"><polygon points="1051.3,524.7 1084.1,530.3 1118,547.3 1154.1,568.7 1190.3,593.6 1225.3,625.2 1244.5,659.1 1256.9,694.1 1253.5,731.4 1242.2,765.3 1217.4,796.9 1185.8,819.5 1149.6,832 1118,835.4 1084.1,822.9 1057,794.7 1043.4,763.1 1034.4,726.9 1028.7,681.7 1023.1,636.5 1019.7,593.6 1020.8,558.6"/></clipPath>
<clipPath id="b7"><rect x="969.9" y="507.3" width="337" height="347.1"/></clipPath>
<g clip-path="url(#c7)">
<polygon points="1041.2,555.2 1061.5,568.7 1084.1,591.3 1106.7,618.5 1127,650.1 1140.6,686.2 1145.1,722.4 1142.8,758.5 1133.8,792.4 1118,821.8 1111.2,828.6 1099.9,819.5 1062.6,784.5 1062.6,766.4 1041.2,745" fill="#fde6e4"/>
<polygon points="1041.2,562 1057,584.6 1077.3,616.2 1095.4,650.1 1108.9,681.7 1114.6,697.5 1111.2,722.4 1097.6,758.5 1084.1,776.6 1070.5,792.4 1062.6,784.5 1062.6,766.4 1041.2,745" fill="#f9c8c3"/>
<polygon points="1041.2,595.9 1059.2,623 1079.6,656.9 1097.6,690.8 1097.6,697.5 1090.9,726.9 1079.6,749.5 1062.6,767.6 1041.2,745" fill="#ec9ea8"/>
<polygon points="1041.2,665.9 1053.6,681.7 1059.2,693 1050.2,706.6 1041.2,717.9" fill="#dd748f"/>
<polygon points="1060.4,536 1084.1,536 1106.7,558.6 1128.1,558.6 1149.6,581.2 1172.2,581.2 1225.3,635.4 1237.7,656.9 1237.7,763.1 1215.1,784.5 1194.8,807.1 1173.3,808.2 1149.6,830.8 1146.2,830.8 1151.9,808.2 1158.6,781.1 1163.2,747.2 1160.9,713.3 1151.9,681.7 1136,645.6 1118,616.2 1095.4,589.1 1072.8,566.5 1057,540.5" fill="#d3ebf2"/>
<polygon points="1073.9,536 1084.1,536 1106.7,558.6 1128.1,558.6 1149.6,581.2 1172.2,581.2 1225.3,635.4 1237.7,656.9 1237.7,763.1 1216.3,784.5 1215.1,758.5 1208.3,724.6 1197,695.3 1172.2,659.1 1149.6,627.5 1122.5,593.6 1095.4,564.2" fill="#a6d0e3"/>
<polygon points="1106.7,558.6 1128.1,558.6 1149.6,581.2 1172.2,581.2 1225.3,635.4 1230.9,641 1221.9,647.8 1216.3,659.1 1194.8,652.3 1172.2,636.5 1151.9,618.5 1131.5,593.6 1111.2,566.5" fill="#70a7cc"/>
</g>
<circle cx="1150.3" cy="695.3" r="3.1" fill="#0000ff"/>
<g clip-path="url(#c7)">
<polyline points="1132.7,563.1 1140.6,604.9 1146.2,650.1 1138.3,672.7 1127,694.1 1173.3,740.5 1212.9,787.5" fill="none" stroke="#ffb300" stroke-width="2" stroke-linejoin="round"/>
<polyline points="1160.9,581.8 1172.2,609.4 1185.8,627.5 1193.7,643.8 1225.3,636.1" fill="none" stroke="#ffb300" stroke-width="2" stroke-linejoin="round"/>
<polyline points="1047.9,551.8 1054.7,568.7 1062.6,592.5 1084.1,607.2 1086.3,581.2 1104.4,557.4" fill="none" stroke="#000" stroke-width="2.1" stroke-linejoin="round"/>
<polyline points="1045.7,554.1 1058.1,543.9" fill="none" stroke="#80bc00" stroke-width="2" stroke-dasharray="6.5 4.2" stroke-linejoin="round"/>
<polyline points="1053.6,558.6 1059.2,566.5 1061.5,575.5" fill="none" stroke="#80bc00" stroke-width="2" stroke-dasharray="6.5 4.2" stroke-linejoin="round"/>
<polyline points="1064.9,554.1 1072.8,556.3" fill="none" stroke="#80bc00" stroke-width="2" stroke-dasharray="6.5 4.2" stroke-linejoin="round"/>
<polyline points="1069.4,564.2 1079.6,568.7" fill="none" stroke="#80bc00" stroke-width="2" stroke-dasharray="6.5 4.2" stroke-linejoin="round"/>
<polyline points="1073.9,575.5 1081.8,576.7" fill="none" stroke="#80bc00" stroke-width="2" stroke-dasharray="6.5 4.2" stroke-linejoin="round"/>
<polyline points="1079.6,560.8 1090.9,564.2 1092,571" fill="none" stroke="#80bc00" stroke-width="2" stroke-dasharray="6.5 4.2" stroke-linejoin="round"/>
<polyline points="1092,550.7 1102.2,557.4" fill="none" stroke="#80bc00" stroke-width="6" stroke-dasharray="3 3" stroke-linejoin="round"/>
<polyline points="1104.4,560.8 1113.5,564.2" fill="none" stroke="#ffb300" stroke-width="6" stroke-dasharray="3 3" stroke-linejoin="round"/>
<polyline points="1042.3,558.6 1044.5,573.3 1052.4,584.6" fill="none" stroke="#ffb300" stroke-width="2" stroke-dasharray="6.5 4.2" stroke-linejoin="round"/>
<polyline points="1041.2,589.1 1050.2,618.5 1061.5,652.3 1077.3,654.6 1090.9,645.6" fill="none" stroke="#ffb300" stroke-width="2" stroke-dasharray="6.5 4.2" stroke-linejoin="round"/>
<polyline points="1044.5,600.4 1059.2,629.7 1077.3,636.5 1090.9,633.1 1102.2,633.1" fill="none" stroke="#ffb300" stroke-width="2" stroke-dasharray="6.5 4.2" stroke-linejoin="round"/>
<polyline points="1061.5,609.4 1079.6,620.7 1086.3,621.8 1090.9,611.7" fill="none" stroke="#ffb300" stroke-width="2" stroke-dasharray="6.5 4.2" stroke-linejoin="round"/>
<polyline points="1092,584.6 1095.4,616.2 1097.6,632" fill="none" stroke="#ffb300" stroke-width="2" stroke-dasharray="6.5 4.2" stroke-linejoin="round"/>
<polyline points="1097.6,584.6 1102.2,607.2 1107.8,627.5" fill="none" stroke="#ffb300" stroke-width="2" stroke-dasharray="6.5 4.2" stroke-linejoin="round"/>
<polyline points="1104.4,586.8 1107.8,607.2" fill="none" stroke="#ffb300" stroke-width="2" stroke-dasharray="6.5 4.2" stroke-linejoin="round"/>
<polyline points="1094.2,576.7 1106.7,574.4" fill="none" stroke="#ffb300" stroke-width="2" stroke-dasharray="6.5 4.2" stroke-linejoin="round"/>
<polyline points="1098.8,821.8 1128.1,808.2 1165.4,815" fill="none" stroke="#ffb300" stroke-width="2" stroke-dasharray="6.5 4.2" stroke-linejoin="round"/>
<polyline points="1108.9,829.7 1128.1,820.7 1142.8,829.7" fill="none" stroke="#ffb300" stroke-width="2" stroke-dasharray="6.5 4.2" stroke-linejoin="round"/>
</g>
<polygon points="1051.3,524.7 1084.1,530.3 1118,547.3 1154.1,568.7 1190.3,593.6 1225.3,625.2 1244.5,659.1 1256.9,694.1 1253.5,731.4 1242.2,765.3 1217.4,796.9 1185.8,819.5 1149.6,832 1118,835.4 1084.1,822.9 1057,794.7 1043.4,763.1 1034.4,726.9 1028.7,681.7 1023.1,636.5 1019.7,593.6 1020.8,558.6" fill="none" stroke="#0000ff" stroke-width="8.4" stroke-linejoin="round"/>
<path d="M1027.4 507.3V854.4M1100.7 507.3V854.4M1174.2 507.3V854.4M1247.5 507.3V854.4M969.9 609.6H1306.9M969.9 722.9H1306.9M969.9 835.9H1306.9" stroke="#111" stroke-width="1.1" stroke-dasharray="1.1 2.9" fill="none"/>
<path d="M1027.4 507.3v3.5M1027.4 854.4v-3.5M1100.7 507.3v3.5M1100.7 854.4v-3.5M1174.2 507.3v3.5M1174.2 854.4v-3.5M1247.5 507.3v3.5M1247.5 854.4v-3.5M969.9 609.6h3.5M1306.9 609.6h-3.5M969.9 722.9h3.5M1306.9 722.9h-3.5M969.9 835.9h3.5M1306.9 835.9h-3.5" stroke="#222" stroke-width="1.1" fill="none"/>
<text x="1039.4" y="712.1" font-size="50.3" font-weight="bold">33</text>
<text x="1171.6" y="599.1" font-size="50.3" font-weight="bold">-26</text>
<line x1="1128.8" y1="582.3" x2="1134.5" y2="606.9" stroke="#000" stroke-width="2.2"/><polygon points="1135.6,611.7 1131.4,604.3 1134.1,605.3 1136.1,603.2" fill="#000"/>
<line x1="1128.1" y1="695.3" x2="1131" y2="713.8" stroke="#000" stroke-width="2.2"/><polygon points="1131.5,717.4 1128.3,711.8 1130.8,712.6 1132.9,711.1" fill="#000"/>
<line x1="1238.8" y1="695.3" x2="1239.8" y2="697.6" stroke="#000" stroke-width="2.2"/><polygon points="1241.1,700.9 1236.7,696.2 1239.3,696.5 1241,694.5" fill="#000"/>
<line x1="1128.1" y1="808.2" x2="1129" y2="819.3" stroke="#000" stroke-width="2.2"/><polygon points="1129.3,822.9 1126.5,817.1 1128.9,818.1 1131.1,816.8" fill="#000"/>
<rect x="969.9" y="507.3" width="337" height="347.1" fill="none" stroke="#303030" stroke-width="1.3"/>
<text x="1139.6" y="495.1" font-size="41" text-anchor="middle">12/01</text>
<text x="1028.2" y="877.9" font-size="25.5" text-anchor="middle">20'</text>
<text x="1104.1" y="885.4" font-size="32.5" text-anchor="middle">94°W</text>
<text x="1175" y="877.9" font-size="25.5" text-anchor="middle">40'</text>
<text x="1248.3" y="877.9" font-size="25.5" text-anchor="middle">20'</text>
<text x="962.9" y="618.9" font-size="25.5" text-anchor="end">30'</text>
<text x="960.6" y="734.9" font-size="32" text-anchor="end">14°N</text>
<text x="962.9" y="845.2" font-size="25.5" text-anchor="end">30'</text>
</g>
<g id="panel8">
<clipPath id="c8"><polygon points="1506,526.8 1541.8,534.2 1577.7,553.7 1612.1,577.6 1648,604.5 1674.9,634.4 1691.3,670.3 1703.3,707.7 1697.3,743.5 1682.4,779.4 1648,815.3 1612.1,831.2 1577.7,835.3 1540.3,818.3 1507.5,777.9 1492.5,739.1 1483.5,703.2 1474.6,652.3 1467.1,598.5 1468.6,558.2"/></clipPath>
<clipPath id="b8"><rect x="1417" y="507.1" width="337" height="347.4"/></clipPath>
<g clip-path="url(#c8)">
<polygon points="1473.7,559.7 1486.5,574.6 1510.4,610.5 1534.4,646.4 1552.3,682.2 1556.8,706.2 1558.3,730.1 1556.8,754 1549.3,783.9 1537.4,798.9 1528.4,789.9 1517.9,776.4 1517.9,733.1 1494,707.7 1494,634.4 1473.7,610.5" fill="#fde6e4"/>
<polygon points="1513.4,535.1 1546.3,538.7 1582.2,561.1 1603.1,574.6 1630,598.5 1659.9,628.4 1683.9,655.3 1683.9,758.5 1659.9,780.9 1636,810.8 1621.1,828.8 1601.6,828.8 1607.6,798.9 1613.6,760 1616.6,730.1 1606.1,706.2 1594.2,682.2 1570.2,649.4 1546.3,616.5 1519.4,577.6 1498.5,555.2" fill="#d3ebf2"/>
<polygon points="1529.9,537.2 1549.3,540.2 1582.2,561.1 1603.1,574.6 1627.1,598.5 1615.1,604.5 1594.2,600 1570.2,580.6 1552.3,556.7" fill="#a6d0e3"/>
</g>
<circle cx="1612.1" cy="707.7" r="3.1" fill="#0000ff"/>
<g clip-path="url(#c8)">
<polyline points="1517.9,775.5 1528.4,780.9 1540.9,794.4 1557.7,780.9 1573.2,757 1588.2,733.1 1597.2,706.2 1606.1,658.3 1602.5,610.5 1610,584.2 1599.5,570.1" fill="none" stroke="#000" stroke-width="2.1" stroke-linejoin="round"/>
<polyline points="1565.8,561.1 1573.2,604.5 1573.2,640.4 1564.3,676.3 1556.8,709.2 1549.3,724.1 1519.4,736.1" fill="none" stroke="#80bc00" stroke-width="2" stroke-dasharray="6.5 4.2" stroke-linejoin="round"/>
<polyline points="1574.7,561.1 1583.7,598.5 1586.7,640.4 1579.2,676.3 1567.3,715.1 1552.3,739.1 1517.9,752.5" fill="none" stroke="#80bc00" stroke-width="2" stroke-dasharray="6.5 4.2" stroke-linejoin="round"/>
<polyline points="1582.2,561.1 1594.2,598.5 1596.6,640.4 1591.2,682.2 1576.2,724.1 1561.3,748 1540.3,769 1520.9,766" fill="none" stroke="#80bc00" stroke-width="2" stroke-dasharray="6.5 4.2" stroke-linejoin="round"/>
<polyline points="1628.6,601.5 1612.1,607.5 1610.6,640.4 1612.1,682.2 1607.6,709.2 1613.6,733.1 1600.1,748 1585.2,777.9 1588.2,834.7" fill="none" stroke="#ffb300" stroke-width="2" stroke-dasharray="6.5 4.2" stroke-linejoin="round"/>
<polyline points="1637.5,610.5 1622.6,616.5 1621.1,649.4 1622.6,682.2 1621.1,709.2 1624.1,739.1 1618.1,769 1613.6,783.9 1622.6,810.8" fill="none" stroke="#ffb300" stroke-width="2" stroke-dasharray="6.5 4.2" stroke-linejoin="round"/>
<polyline points="1637.5,612 1628.6,631.4 1630,664.3 1631.5,709.2 1637.5,739.1 1648,757 1648,777.9 1652.5,786.9" fill="none" stroke="#ffb300" stroke-width="2" stroke-dasharray="6.5 4.2" stroke-linejoin="round"/>
</g>
<polygon points="1506,526.8 1541.8,534.2 1577.7,553.7 1612.1,577.6 1648,604.5 1674.9,634.4 1691.3,670.3 1703.3,707.7 1697.3,743.5 1682.4,779.4 1648,815.3 1612.1,831.2 1577.7,835.3 1540.3,818.3 1507.5,777.9 1492.5,739.1 1483.5,703.2 1474.6,652.3 1467.1,598.5 1468.6,558.2" fill="none" stroke="#0000ff" stroke-width="8.4" stroke-linejoin="round"/>
<path d="M1479.6 507.1V854.5M1559.2 507.1V854.5M1638.4 507.1V854.5M1717.7 507.1V854.5M1417 615.6H1754M1417 737.6H1754" stroke="#111" stroke-width="1.1" stroke-dasharray="1.1 2.9" fill="none"/>
<path d="M1479.6 507.1v3.5M1479.6 854.5v-3.5M1559.2 507.1v3.5M1559.2 854.5v-3.5M1638.4 507.1v3.5M1638.4 854.5v-3.5M1717.7 507.1v3.5M1717.7 854.5v-3.5M1417 615.6h3.5M1754 615.6h-3.5M1417 737.6h3.5M1754 737.6h-3.5" stroke="#222" stroke-width="1.1" fill="none"/>
<text x="1469.7" y="627.9" font-size="50.3" font-weight="bold">9</text>
<text x="1587.8" y="578.6" font-size="50.3" font-weight="bold">-17</text>
<line x1="1588.8" y1="584.2" x2="1594.7" y2="590.5" stroke="#000" stroke-width="2.2"/><polygon points="1597.2,593.1 1591.4,590.3 1593.9,589.6 1594.7,587.2" fill="#000"/>
<line x1="1470.1" y1="585.7" x2="1474.3" y2="590.4" stroke="#000" stroke-width="2.2"/><polygon points="1476.7,593.1 1471,590.2 1473.5,589.5 1474.4,587.1" fill="#000"/>
<line x1="1588.8" y1="707.7" x2="1590.3" y2="710.5" stroke="#000" stroke-width="2.2"/><polygon points="1592.1,713.6 1587.2,709.5 1589.8,709.4 1591.2,707.3" fill="#000"/>
<rect x="1417" y="507.1" width="337" height="347.4" fill="none" stroke="#303030" stroke-width="1.3"/>
<text x="1586.7" y="494.9" font-size="41" text-anchor="middle">12/02</text>
<text x="1480.4" y="878" font-size="25.5" text-anchor="middle">20'</text>
<text x="1562.6" y="885.5" font-size="32.5" text-anchor="middle">94°W</text>
<text x="1639.2" y="878" font-size="25.5" text-anchor="middle">40'</text>
<text x="1718.5" y="878" font-size="25.5" text-anchor="middle">20'</text>
<text x="1410" y="624.9" font-size="25.5" text-anchor="end">30'</text>
<text x="1407.7" y="749.6" font-size="32" text-anchor="end">14°N</text>
</g>
<g id="panel9">
<clipPath id="c9"><polygon points="197.5,989.7 229.1,991.9 258.5,1001 287.8,1019 319.4,1041.6 346.5,1063.1 371.4,1085.7 384.9,1106 395.1,1130.9 399.6,1162.5 395.1,1189.6 382.7,1219 366.9,1243.8 342,1273.2 314.9,1291.2 283.3,1300.7 253.9,1294.6 226.8,1277.7 195.2,1249.5 163.6,1219 132,1187.3 103.7,1153.5 92.4,1130.9 90.8,1101.5 99.2,1072.1 118.4,1042.8 141,1020.2 168.1,999.8"/></clipPath>
<clipPath id="b9"><rect x="74.9" y="971.6" width="338.1" height="348.7"/></clipPath>
<g clip-path="url(#c9)">
<polygon points="174.9,1000.3 188,1000.3 188.9,1020.2 188,1065.4 182.8,1101.5 179.4,1119.6 186.2,1155.7 192.9,1196.4 198.6,1221.2 199.3,1242.7 141,1181.7 103.7,1144.4 99.2,1101.5 99.2,1094.7 118.4,1060.8 118.4,1040.5 139.9,1020.2 156.8,1020.2" fill="#ec9ea8"/>
<polygon points="99.2,1101.5 99.2,1094.7 118.4,1060.8 118.4,1040.5 139.9,1020.2 156.8,1020.2 173.7,1002.1 173.1,1031.5 169.2,1065.4 161.3,1101.5 152.3,1137.6 141,1181.7 103.7,1144.4" fill="#cb466e"/>
<polygon points="203.1,1000.3 235.9,1000.3 253.9,1020.2 274.3,1020.2 292.3,1039.4 388.3,1119.6 388.3,1187.3 382.7,1205.4 369.1,1219 369.1,1241.5 330.7,1278.8 312.7,1278.8 296.9,1293.5 287.8,1295.8 287.8,1266.4 284.4,1225.7 276.5,1203.1 265.2,1178.3 238.1,1142.2 222.3,1110.5 213.3,1069.9 206.5,1031.5" fill="#70a7cc"/>
<polygon points="221.9,1000.3 235.9,1000.3 253.9,1020.2 274.3,1020.2 292.3,1039.4 329.6,1060.4 312.7,1065.4 292.3,1068.1 274.3,1066.5 253.9,1062 242.6,1042.8 229.1,1020.2" fill="#03569b"/>
</g>
<circle cx="224.6" cy="1130" r="3.1" fill="#0000ff"/>
<g clip-path="url(#c9)">
<polyline points="196.3,1001 174.9,1020.2 156.8,1028.1 136.5,1040.5 118.4,1052.9" fill="none" stroke="#ffb300" stroke-width="2" stroke-linejoin="round"/>
<polyline points="99.2,1100.4 113.9,1083.4 136.5,1065.4 156.8,1049.5 177.1,1054.5 196.3,1059.7 215.1,1054.5 220,1076.6 226.8,1101.5 234.7,1119.6 238.1,1144.4 243.8,1178.3 248.3,1209.9 252.8,1239.3 256.6,1258.5 252.8,1278.8" fill="none" stroke="#ffb300" stroke-width="2" stroke-linejoin="round"/>
<polyline points="103.7,1144.4 103.7,1119.6 113.9,1103.8 136.5,1085.7 156.8,1069.9 174.9,1081.2 197.5,1099.2 209.9,1119.6 215.5,1146.7 221.2,1179.4 215.5,1200.9 203.1,1219 197.9,1240.4" fill="none" stroke="#ffb300" stroke-width="2" stroke-linejoin="round"/>
<polyline points="388.3,1157.5 360.1,1119.6 311.5,1106 292.3,1108.3 283.3,1119.6 284.4,1142.2 290.1,1162.5 305.9,1189.6 335.3,1219 320.6,1238.2 319.4,1259.6 316.1,1278.8" fill="none" stroke="#ffb300" stroke-width="2" stroke-linejoin="round"/>
<polyline points="118.4,1058.6 136.5,1049.5 156.8,1037.1" fill="none" stroke="#ffb300" stroke-width="2" stroke-linejoin="round"/>
<polyline points="118.4,1042.1 135.3,1033.3 154.5,1021.3 170.4,1008.9 183.9,1001" fill="none" stroke="#ffb300" stroke-width="4.5" stroke-dasharray="10 6" stroke-linejoin="round"/>
<polyline points="124,1034.2 145.5,1021.3" fill="none" stroke="#80bc00" stroke-width="4.5" stroke-dasharray="6.5 4.2" stroke-linejoin="round"/>
</g>
<polygon points="197.5,989.7 229.1,991.9 258.5,1001 287.8,1019 319.4,1041.6 346.5,1063.1 371.4,1085.7 384.9,1106 395.1,1130.9 399.6,1162.5 395.1,1189.6 382.7,1219 366.9,1243.8 342,1273.2 314.9,1291.2 283.3,1300.7 253.9,1294.6 226.8,1277.7 195.2,1249.5 163.6,1219 132,1187.3 103.7,1153.5 92.4,1130.9 90.8,1101.5 99.2,1072.1 118.4,1042.8 141,1020.2 168.1,999.8" fill="none" stroke="#0000ff" stroke-width="8.4" stroke-linejoin="round"/>
<path d="M133.1 971.6V1320.3M229.3 971.6V1320.3M325.9 971.6V1320.3M74.9 1045H413M74.9 1144.3H413M74.9 1243.8H413" stroke="#111" stroke-width="1.1" stroke-dasharray="1.1 2.9" fill="none"/>
<path d="M133.1 971.6v3.5M133.1 1320.3v-3.5M229.3 971.6v3.5M229.3 1320.3v-3.5M325.9 971.6v3.5M325.9 1320.3v-3.5M74.9 1045h3.5M413 1045h-3.5M74.9 1144.3h3.5M413 1144.3h-3.5M74.9 1243.8h3.5M413 1243.8h-3.5" stroke="#222" stroke-width="1.1" fill="none"/>
<text x="99.7" y="1098" font-size="50.3" font-weight="bold">91</text>
<text x="272.5" y="1038.1" font-size="50.3" font-weight="bold">-36</text>
<line x1="156.8" y1="1021.3" x2="149.2" y2="1075.8" stroke="#000" stroke-width="2.2"/><polyline points="146.5,1061.9 148.9,1077.8 155.6,1063.2" fill="none" stroke="#000" stroke-width="2" stroke-linejoin="miter"/>
<line x1="156.8" y1="1120.7" x2="149.8" y2="1155.3" stroke="#000" stroke-width="2.2"/><polygon points="148.4,1162 147.4,1150.2 150.2,1153.1 154,1151.6" fill="#000"/>
<line x1="253.5" y1="1021.3" x2="256.7" y2="1052.5" stroke="#000" stroke-width="2.2"/><polygon points="257.3,1058.6 253.3,1048.8 256.5,1050.5 259.3,1048.2" fill="#000"/>
<line x1="253.5" y1="1120.7" x2="253.5" y2="1133.6" stroke="#000" stroke-width="2.2"/><polygon points="253.5,1137.2 251.2,1131.2 253.5,1132.4 255.8,1131.2" fill="#000"/>
<line x1="253.5" y1="1220.1" x2="253.1" y2="1231.6" stroke="#000" stroke-width="2.2"/><polygon points="253,1235.2 250.9,1229.2 253.2,1230.4 255.5,1229.3" fill="#000"/>
<line x1="349.9" y1="1120.7" x2="350.6" y2="1126.2" stroke="#000" stroke-width="2.2"/><polygon points="351.1,1129.7 348,1124.1 350.5,1125 352.6,1123.5" fill="#000"/>
<line x1="349.9" y1="1220.1" x2="350.4" y2="1222.6" stroke="#000" stroke-width="2.2"/><polygon points="351.1,1226.2 347.7,1220.7 350.2,1221.5 352.2,1219.9" fill="#000"/>
<rect x="74.9" y="971.6" width="338.1" height="348.7" fill="none" stroke="#303030" stroke-width="1.3"/>
<text x="245.1" y="959.4" font-size="41" text-anchor="middle">12/08</text>
<text x="136.5" y="1351.3" font-size="32.5" text-anchor="middle">95°W</text>
<text x="230.1" y="1343.8" font-size="25.5" text-anchor="middle">30'</text>
<text x="329.3" y="1351.3" font-size="32.5" text-anchor="middle">94°W</text>
<text x="65.6" y="1057" font-size="32" text-anchor="end">15°N</text>
<text x="67.9" y="1153.6" font-size="25.5" text-anchor="end">30'</text>
<text x="65.6" y="1255.8" font-size="32" text-anchor="end">14°N</text>
</g>
<g id="panel10">
<clipPath id="c10"><polygon points="690.4,1014.9 721.3,1014.9 752.2,1024.9 782.1,1042.8 808,1065.8 827.9,1091.7 842.9,1131.5 842.9,1163.4 835.9,1187.3 831.9,1199.3 817.9,1216.2 798,1235.2 782.1,1247.1 752.2,1265 721.3,1276 690.4,1276 660.5,1265 630.6,1247.1 600.7,1223.2 570.8,1195.3 547.9,1163.4 539.9,1133.5 552.9,1101.6 576.8,1079.7 600.7,1059.8 630.6,1037.9 660.5,1022.9"/></clipPath>
<clipPath id="b10"><rect x="523" y="971.9" width="336.9" height="348"/></clipPath>
<g clip-path="url(#c10)">
<polygon points="668.5,1025.9 692,1025.9 690.4,1055.8 682.4,1099.6 670.5,1133.5 656.5,1154.4 648.6,1191.3 647.6,1217.2 650.5,1243.1 644.6,1241.1 626.6,1241.1 600.7,1219.2 574.8,1191.3 563.9,1175.4 563.9,1153.4 544.9,1133.5 565.9,1110.6 604.7,1075.7 636.6,1049.8" fill="#ec9ea8"/>
<polygon points="565.9,1110.6 604.7,1075.7 636.6,1049.8 668.5,1025.9 674.5,1025.9 673.5,1049.8 662.5,1083.7 648.6,1112.6 628.6,1127.5 605.7,1137.1 584.8,1123.6" fill="#cb466e"/>
<polygon points="708.3,1025.9 723.3,1025.9 716.3,1079.7 704.4,1131.5 702.4,1151.5 702.4,1199.3 705.4,1235.2 709.3,1261.1 683.4,1261.1 682.4,1239.1 680.4,1217.2 682.4,1175.4 683.4,1131.5 694.4,1091.7 702.4,1059.8" fill="#70a7cc"/>
<polygon points="723.3,1025.9 752.2,1025.9 782.1,1051.8 814,1083.7 814,1111.6 834.9,1133.5 834.9,1165.4 831.9,1177.4 823.9,1187.3 814,1194.3 814,1215.2 790,1240.1 770.1,1242.1 752.2,1262.1 709.3,1262.1 705.4,1235.2 702.4,1199.3 702.4,1151.5 704.4,1131.5 716.3,1079.7" fill="#03569b"/>
</g>
<circle cx="688.8" cy="1133.5" r="3.1" fill="#0000ff"/>
<g clip-path="url(#c10)">
<polyline points="579.8,1096.1 605.7,1082.1 618.7,1113.6 628.6,1143.5 638.6,1175.4 643.6,1197.3 647.6,1205.3 654.5,1198.3 667.5,1191.3 672.5,1177.4 682.4,1165.4 696.4,1151.5 708.3,1141.5 724.3,1117.6 744.2,1083.7 767.1,1042.8" fill="none" stroke="#80bc00" stroke-width="2" stroke-linejoin="round"/>
<polyline points="652.5,1245.1 668.5,1229.2 678.4,1203.3 688.4,1183.3 700.4,1171.4 712.3,1159.4 724.3,1139.5 744.2,1107.6 764.1,1079.7 778.1,1053.8" fill="none" stroke="#80bc00" stroke-width="2" stroke-linejoin="round"/>
<polyline points="668.9,1262.1 676.5,1239.1 688.4,1215.2 704.4,1193.3 724.3,1175.4 744.2,1143.5 760.2,1123.6 772.1,1109.6 778.1,1089.7 791,1067.8" fill="none" stroke="#80bc00" stroke-width="2" stroke-linejoin="round"/>
<polyline points="562.3,1152.5 584.8,1150.5 605.7,1146.5 608.3,1154.4 605.7,1162.4 584.8,1160.4 564.9,1176.4" fill="none" stroke="#80bc00" stroke-width="2" stroke-linejoin="round"/>
<polyline points="696.4,1262.1 708.3,1239.1 730.3,1228.2 752.2,1201.3 772.1,1190.9 794,1219.2 795,1239.1" fill="none" stroke="#ffb300" stroke-width="2" stroke-linejoin="round"/>
<polyline points="709.3,1262.1 730.3,1254.1 751.2,1241.1 771.1,1242.7" fill="none" stroke="#ffb300" stroke-width="2" stroke-linejoin="round"/>
<polyline points="680.2,1259.7 685.2,1244.7 691.2,1234.8 701.2,1222.8 713.1,1208.8 731.1,1192.9 743,1175 753,1157 768.9,1141.1 788.9,1137.1 794.8,1129.1 792.8,1109.2 795.8,1089.3 799.8,1077.3" fill="none" stroke="#80bc00" stroke-width="4.5" stroke-dasharray="4 6" stroke-linejoin="round"/>
<polyline points="686.6,1264.4 691.6,1249.5 697.6,1239.5 707.5,1227.6 719.5,1213.6 737.4,1197.7 749.4,1179.8 759.4,1161.8 775.3,1145.9 795.2,1141.9 801.2,1133.9 799.2,1114 802.2,1094.1 806.2,1082.1" fill="none" stroke="#ffb300" stroke-width="4.5" stroke-dasharray="4 6" stroke-linejoin="round"/>
<polyline points="683.4,1262.1 688.4,1247.1 694.4,1237.1 704.4,1225.2 716.3,1211.2 734.2,1195.3 746.2,1177.4 756.2,1159.4 772.1,1143.5 792,1139.5 798,1131.5 796,1111.6 799,1091.7 803,1079.7" fill="none" stroke="#000" stroke-width="2.1" stroke-linejoin="round"/>
<polyline points="825.9,1183.3 827.9,1177.4 833.9,1173.4" fill="none" stroke="#ffb300" stroke-width="2" stroke-dasharray="5 3" stroke-linejoin="round"/>
<polyline points="678.4,1261.1 679.4,1259.1" fill="none" stroke="#80bc00" stroke-width="2" stroke-linejoin="round"/>
</g>
<polygon points="690.4,1014.9 721.3,1014.9 752.2,1024.9 782.1,1042.8 808,1065.8 827.9,1091.7 842.9,1131.5 842.9,1163.4 835.9,1187.3 831.9,1199.3 817.9,1216.2 798,1235.2 782.1,1247.1 752.2,1265 721.3,1276 690.4,1276 660.5,1265 630.6,1247.1 600.7,1223.2 570.8,1195.3 547.9,1163.4 539.9,1133.5 552.9,1101.6 576.8,1079.7 600.7,1059.8 630.6,1037.9 660.5,1022.9" fill="none" stroke="#0000ff" stroke-width="8.4" stroke-linejoin="round"/>
<path d="M544.8 971.9V1319.9M614.2 971.9V1319.9M683.8 971.9V1319.9M753.5 971.9V1319.9M822.9 971.9V1319.9M523 1074H859.9M523 1181.6H859.9M523 1289.3H859.9" stroke="#111" stroke-width="1.1" stroke-dasharray="1.1 2.9" fill="none"/>
<path d="M544.8 971.9v3.5M544.8 1319.9v-3.5M614.2 971.9v3.5M614.2 1319.9v-3.5M683.8 971.9v3.5M683.8 1319.9v-3.5M753.5 971.9v3.5M753.5 1319.9v-3.5M822.9 971.9v3.5M822.9 1319.9v-3.5M523 1074h3.5M859.9 1074h-3.5M523 1181.6h3.5M859.9 1181.6h-3.5M523 1289.3h3.5M859.9 1289.3h-3.5" stroke="#222" stroke-width="1.1" fill="none"/>
<text x="626.9" y="1065.8" font-size="50.3" font-weight="bold">67</text>
<text x="792.3" y="1086.7" font-size="50.3" font-weight="bold">-83</text>
<line x1="710.3" y1="1047.8" x2="700.6" y2="1134.5" stroke="#000" stroke-width="2.2"/><polyline points="697.3,1119.6 700.4,1136.5 707.1,1120.7" fill="none" stroke="#000" stroke-width="2" stroke-linejoin="miter"/>
<line x1="710.3" y1="1155.4" x2="699.7" y2="1227.2" stroke="#000" stroke-width="2.2"/><polyline points="696.9,1212.1 699.4,1229.2 706.7,1213.6" fill="none" stroke="#000" stroke-width="2" stroke-linejoin="miter"/>
<line x1="605.7" y1="1155.4" x2="591.5" y2="1186.3" stroke="#000" stroke-width="2.2"/><polygon points="588.8,1192.3 590.4,1181 592.4,1184.3 596.3,1183.7" fill="#000"/>
<line x1="814" y1="1155.4" x2="819.4" y2="1216.2" stroke="#000" stroke-width="2.2"/><polyline points="813.1,1202.2 819.5,1218.2 823,1201.3" fill="none" stroke="#000" stroke-width="2" stroke-linejoin="miter"/>
<line x1="710" y1="1262" x2="698.9" y2="1320" stroke="#000" stroke-width="2.2"/><polyline points="696.7,1304.9 698.5,1322 706.5,1306.7" fill="none" stroke="#000" stroke-width="2" stroke-linejoin="miter"/>
<rect x="523" y="971.9" width="336.9" height="348" fill="none" stroke="#303030" stroke-width="1.3"/>
<text x="692.7" y="959.7" font-size="41" text-anchor="middle">12/13</text>
<text x="545.6" y="1343.4" font-size="25.5" text-anchor="middle">40'</text>
<text x="615" y="1343.4" font-size="25.5" text-anchor="middle">20'</text>
<text x="687.2" y="1350.9" font-size="32.5" text-anchor="middle">95°W</text>
<text x="754.3" y="1343.4" font-size="25.5" text-anchor="middle">40'</text>
<text x="823.7" y="1343.4" font-size="25.5" text-anchor="middle">20'</text>
<text x="513.7" y="1086" font-size="32" text-anchor="end">15°N</text>
<text x="516" y="1190.9" font-size="25.5" text-anchor="end">30'</text>
<text x="513.7" y="1301.3" font-size="32" text-anchor="end">14°N</text>
</g>
<g id="panel11">
<clipPath id="c11"><polygon points="1165.6,1008.2 1201.4,1008.2 1238.8,1024.7 1256.7,1045.6 1271.7,1063.5 1280.7,1087.4 1286.6,1135.3 1283.7,1165.2 1274.7,1208.5 1259.7,1231 1238.8,1248.9 1201.4,1272.8 1165.6,1283.3 1129.7,1280.3 1093.8,1263.9 1059.4,1239.9 1029.5,1213 998.1,1172.7 989.1,1135.3 1017.5,1099.4 1059.4,1066.5 1093.8,1042.6 1129.7,1023.2"/></clipPath>
<clipPath id="b11"><rect x="969.9" y="971.6" width="337" height="348.7"/></clipPath>
<g clip-path="url(#c11)">
<polygon points="1010.1,1112.3 1034,1112.3 1080.3,1062.9 1105.8,1062.9 1128.2,1038.1 1151.5,1038.1 1143.1,1066.5 1137.1,1117.3 1132.7,1168.2 1131.2,1207 1134.2,1248.9 1134.2,1259.4 1105.8,1259.4 1059.4,1231 1029.5,1214.5 1010.1,1189.1" fill="#ec9ea8"/>
<polygon points="1016.9,1112.3 1034,1112.3 1080.3,1062.9 1105.8,1062.9 1120.7,1047.1 1117.7,1087.4 1113.2,1129.3 1108.7,1174.2 1108.7,1207 1111.7,1236.9 1116.2,1259.4 1105.8,1259.4 1059.4,1236.9 1026.5,1207 1032.5,1168.2 1029.5,1135.3" fill="#cb466e"/>
<polygon points="1177.5,1013.3 1195.5,1013.3 1185,1051.6 1177.5,1099.4 1174.5,1147.2 1176,1168.2 1177.5,1207 1182,1259.4 1156.6,1259.4 1153.6,1207 1153.6,1168.2 1156.6,1129.3 1159.6,1099.4 1165.6,1060.5" fill="#70a7cc"/>
<polygon points="1195.5,1013.3 1201.4,1013.3 1223.9,1038.1 1247.8,1038.1 1247.8,1063.5 1271.7,1087.4 1271.7,1186.1 1247.8,1210 1247.8,1234 1217.9,1259.4 1182,1259.4 1177.5,1207 1176,1168.2 1174.5,1147.2 1177.5,1099.4 1185,1051.6" fill="#03569b"/>
</g>
<circle cx="1164.7" cy="1136.5" r="3.1" fill="#0000ff"/>
<g clip-path="url(#c11)">
<polyline points="1040.9,1216.9 1054.9,1210 1069.9,1184.6 1083.3,1175.7 1105.8,1166.7 1116.2,1156.2 1128.2,1141.3 1137.1,1135.3 1153.6,1130.8 1176,1132.9 1199.9,1124.8 1202.9,1105.4 1211.9,1084.5 1226.8,1063.5 1237.3,1038.7" fill="none" stroke="#80bc00" stroke-width="2" stroke-linejoin="round"/>
<polyline points="1071.4,1231 1089.3,1219 1105.8,1207 1129.7,1189.1 1140.1,1174.2 1152.1,1159.2 1176,1154.7 1199.9,1157.7 1223.9,1153.2 1247.8,1171.2 1271.7,1186.1" fill="none" stroke="#80bc00" stroke-width="2" stroke-linejoin="round"/>
<polyline points="1090.8,1244.4 1105.8,1236.9 1128.2,1232.5 1152.1,1207 1176,1191.5 1199.9,1190.6 1223.9,1193.6 1247.8,1213" fill="none" stroke="#80bc00" stroke-width="2" stroke-linejoin="round"/>
<polyline points="1235.8,1111.4 1271.7,1142.8" fill="none" stroke="#80bc00" stroke-width="2" stroke-linejoin="round"/>
<polyline points="1247.8,1063.5 1237.3,1084.5 1234.3,1099.4 1235.8,1111.4" fill="none" stroke="#80bc00" stroke-width="2" stroke-linejoin="round"/>
<polyline points="1261.2,1077 1256.2,1087.4 1264.2,1114.4 1271.7,1119.7" fill="none" stroke="#80bc00" stroke-width="2" stroke-linejoin="round"/>
<polyline points="1102.8,1254.9 1116.2,1257.9 1134.2,1256.4 1152.1,1245.9 1179,1254.9" fill="none" stroke="#80bc00" stroke-width="2" stroke-dasharray="6.5 4.2" stroke-linejoin="round"/>
<polyline points="1137.1,1259.4 1159.6,1248.9 1179,1259.4" fill="none" stroke="#80bc00" stroke-width="2" stroke-dasharray="6.5 4.2" stroke-linejoin="round"/>
</g>
<polygon points="1165.6,1008.2 1201.4,1008.2 1238.8,1024.7 1256.7,1045.6 1271.7,1063.5 1280.7,1087.4 1286.6,1135.3 1283.7,1165.2 1274.7,1208.5 1259.7,1231 1238.8,1248.9 1201.4,1272.8 1165.6,1283.3 1129.7,1280.3 1093.8,1263.9 1059.4,1239.9 1029.5,1213 998.1,1172.7 989.1,1135.3 1017.5,1099.4 1059.4,1066.5 1093.8,1042.6 1129.7,1023.2" fill="none" stroke="#0000ff" stroke-width="8.4" stroke-linejoin="round"/>
<path d="M1035.5 971.6V1320.3M1115 971.6V1320.3M1194.6 971.6V1320.3M1273.8 971.6V1320.3M969.9 1068H1306.9M969.9 1191.5H1306.9M969.9 1315.3H1306.9" stroke="#111" stroke-width="1.1" stroke-dasharray="1.1 2.9" fill="none"/>
<path d="M1035.5 971.6v3.5M1035.5 1320.3v-3.5M1115 971.6v3.5M1115 1320.3v-3.5M1194.6 971.6v3.5M1194.6 1320.3v-3.5M1273.8 971.6v3.5M1273.8 1320.3v-3.5M969.9 1068h3.5M1306.9 1068h-3.5M969.9 1191.5h3.5M1306.9 1191.5h-3.5M969.9 1315.3h3.5M1306.9 1315.3h-3.5" stroke="#222" stroke-width="1.1" fill="none"/>
<text x="1057.5" y="1252.9" font-size="50.3" font-weight="bold">53</text>
<text x="1270.1" y="1130.3" font-size="50.3" font-weight="bold" letter-spacing="2.4">-111</text>
<line x1="1223.9" y1="1039.6" x2="1237.6" y2="1142.9" stroke="#000" stroke-width="2.2"/><polyline points="1230.8,1129.2 1237.9,1144.9 1240.6,1127.8" fill="none" stroke="#000" stroke-width="2" stroke-linejoin="miter"/>
<line x1="1223.9" y1="1160.7" x2="1237.6" y2="1242.5" stroke="#000" stroke-width="2.2"/><polyline points="1230.3,1229 1237.9,1244.4 1240.1,1227.3" fill="none" stroke="#000" stroke-width="2" stroke-linejoin="miter"/>
<line x1="1104.9" y1="1160.7" x2="1103.7" y2="1232" stroke="#000" stroke-width="2.2"/><polyline points="1099,1217.4 1103.7,1234 1108.9,1217.5" fill="none" stroke="#000" stroke-width="2" stroke-linejoin="miter"/>
<rect x="969.9" y="971.6" width="337" height="348.7" fill="none" stroke="#303030" stroke-width="1.3"/>
<text x="1139.6" y="959.4" font-size="41" text-anchor="middle">12/16</text>
<text x="1036.3" y="1343.8" font-size="25.5" text-anchor="middle">40'</text>
<text x="1115.8" y="1343.8" font-size="25.5" text-anchor="middle">20'</text>
<text x="1198" y="1351.3" font-size="32.5" text-anchor="middle">95°W</text>
<text x="1274.6" y="1343.8" font-size="25.5" text-anchor="middle">40'</text>
<text x="960.6" y="1080" font-size="32" text-anchor="end">15°N</text>
<text x="962.9" y="1200.8" font-size="25.5" text-anchor="end">30'</text>
<text x="960.6" y="1327.3" font-size="32" text-anchor="end">14°N</text>
</g>
<g id="panel12">
<clipPath id="c12"><polygon points="1627.1,991.8 1664.4,997.7 1698.8,1027.6 1710.8,1060.5 1715.3,1099.4 1715.3,1144.3 1709.3,1183.1 1698.8,1222 1665.9,1263.9 1625.6,1290.8 1588.2,1299.7 1549.3,1289.3 1510.4,1260.9 1474.6,1222 1455.1,1181.6 1458.1,1144.3 1483.5,1105.4 1516.4,1069.5 1552.3,1033.6 1588.2,1006.7"/></clipPath>
<clipPath id="b12"><rect x="1417" y="971.9" width="337" height="348"/></clipPath>
<g clip-path="url(#c12)">
<polygon points="1588.8,1016.3 1622.6,1016.3 1618.1,1039.6 1606.1,1075.5 1588.2,1117.3 1564.3,1162.2 1540.3,1177.1 1513.4,1195.1 1489.5,1190.6 1464.1,1162.2 1464.1,1147.2 1506,1102.4 1522.4,1084.5 1564.3,1039.6" fill="#ec9ea8"/>
<polygon points="1506,1102.4 1522.4,1084.5 1564.3,1039.6 1588.8,1016.3 1591.2,1016.3 1585.2,1048.6 1573.2,1081.5 1564.3,1099.4 1534.4,1103.9 1513.4,1108.4" fill="#cb466e"/>
<polygon points="1649.5,1016.3 1662.9,1016.3 1668.9,1023.2 1659.9,1051.6 1648,1087.4 1630,1129.3 1612.1,1183.1 1597.2,1242.9 1588.2,1272.8 1582.2,1289.3 1564.3,1272.8 1543.3,1272.8 1537.4,1269.8 1549.3,1248.9 1564.3,1231 1582.2,1195.1 1600.1,1156.2 1612.1,1123.3 1630,1075.5 1642,1039.6" fill="#70a7cc"/>
<polygon points="1668.9,1023.2 1686.9,1041.1 1686.9,1066.5 1710.8,1090.4 1710.8,1153.2 1686.9,1177.1 1686.9,1222 1668.9,1238.4 1654,1248.9 1639,1272.8 1612.1,1272.8 1594.2,1293.8 1585.2,1293.8 1582.2,1289.3 1588.2,1272.8 1597.2,1242.9 1612.1,1183.1 1630,1129.3 1648,1087.4 1659.9,1051.6" fill="#03569b"/>
</g>
<circle cx="1588.2" cy="1183.1" r="3.1" fill="#0000ff"/>
<g clip-path="url(#c12)">
<polyline points="1522.4,1084.5 1531.4,1108.4 1538.8,1147.2 1546.3,1177.1 1562.8,1210.6 1591.2,1198.1 1613.6,1180.1 1624.1,1159.2 1637.5,1135.3 1645,1111.4 1654,1069.5 1664.4,1045.6 1674.9,1030.6" fill="none" stroke="#80bc00" stroke-width="2" stroke-linejoin="round"/>
<polyline points="1464.7,1161.6 1489.5,1162.8 1497,1171.2 1501.5,1195.1 1500,1222 1517.9,1248.9 1543.3,1272.8" fill="none" stroke="#80bc00" stroke-width="2" stroke-linejoin="round"/>
<polyline points="1572.6,1281.8 1582.2,1269.8 1591.2,1263.9 1627.1,1247.4 1639,1234 1651,1189.1 1652.5,1165.2 1664.4,1129.3 1665.9,1111.4 1677.9,1081.5 1686.9,1056" fill="none" stroke="#80bc00" stroke-width="2" stroke-linejoin="round"/>
<polyline points="1677.9,1232.5 1680.9,1216 1677.9,1189.1 1676.4,1171.2 1683.9,1129.3 1688.4,1109.9 1712.3,1100.3" fill="none" stroke="#80bc00" stroke-width="2" stroke-linejoin="round"/>
<polyline points="1703.3,1150.2 1712.3,1136.8" fill="none" stroke="#80bc00" stroke-width="2" stroke-linejoin="round"/>
</g>
<polygon points="1627.1,991.8 1664.4,997.7 1698.8,1027.6 1710.8,1060.5 1715.3,1099.4 1715.3,1144.3 1709.3,1183.1 1698.8,1222 1665.9,1263.9 1625.6,1290.8 1588.2,1299.7 1549.3,1289.3 1510.4,1260.9 1474.6,1222 1455.1,1181.6 1458.1,1144.3 1483.5,1105.4 1516.4,1069.5 1552.3,1033.6 1588.2,1006.7" fill="none" stroke="#0000ff" stroke-width="8.4" stroke-linejoin="round"/>
<path d="M1491 971.9V1319.9M1573.8 971.9V1319.9M1656.4 971.9V1319.9M1739.2 971.9V1319.9M1417 1074H1754M1417 1202H1754" stroke="#111" stroke-width="1.1" stroke-dasharray="1.1 2.9" fill="none"/>
<path d="M1491 971.9v3.5M1491 1319.9v-3.5M1573.8 971.9v3.5M1573.8 1319.9v-3.5M1656.4 971.9v3.5M1656.4 1319.9v-3.5M1739.2 971.9v3.5M1739.2 1319.9v-3.5M1417 1074h3.5M1754 1074h-3.5M1417 1202h3.5M1754 1202h-3.5" stroke="#222" stroke-width="1.1" fill="none"/>
<text x="1563.9" y="1059.1" font-size="50.3" font-weight="bold">54</text>
<text x="1688" y="1188.6" font-size="50.3" font-weight="bold">-79</text>
<line x1="1564.3" y1="1042.6" x2="1538.4" y2="1082.8" stroke="#000" stroke-width="2.2"/><polyline points="1541.2,1071 1537.4,1084.5 1548,1075.3" fill="none" stroke="#000" stroke-width="2" stroke-linejoin="miter"/>
<line x1="1687.5" y1="1042.6" x2="1671.7" y2="1116.9" stroke="#000" stroke-width="2.2"/><polyline points="1669.9,1101.7 1671.3,1118.8 1679.6,1103.7" fill="none" stroke="#000" stroke-width="2" stroke-linejoin="miter"/>
<line x1="1563.7" y1="1171.2" x2="1541.4" y2="1207.7" stroke="#000" stroke-width="2.2"/><polyline points="1543.5,1197.2 1540.3,1209.4 1549.7,1201" fill="none" stroke="#000" stroke-width="2" stroke-linejoin="miter"/>
<line x1="1688.4" y1="1171.2" x2="1671" y2="1233.5" stroke="#000" stroke-width="2.2"/><polyline points="1670.1,1218.2 1670.4,1235.5 1679.6,1220.9" fill="none" stroke="#000" stroke-width="2" stroke-linejoin="miter"/>
<rect x="1417" y="971.9" width="337" height="348" fill="none" stroke="#303030" stroke-width="1.3"/>
<text x="1586.7" y="959.7" font-size="41" text-anchor="middle">12/18</text>
<text x="1491.8" y="1343.4" font-size="25.5" text-anchor="middle">40'</text>
<text x="1574.6" y="1343.4" font-size="25.5" text-anchor="middle">20'</text>
<text x="1659.8" y="1350.9" font-size="32.5" text-anchor="middle">95°W</text>
<text x="1740" y="1343.4" font-size="25.5" text-anchor="middle">40'</text>
<text x="1407.7" y="1086" font-size="32" text-anchor="end">15°N</text>
<text x="1410" y="1211.3" font-size="25.5" text-anchor="end">30'</text>
</g>
<rect x="523.3" y="1386.4" width="71.8" height="61.2" fill="#03569b"/>
<rect x="594.6" y="1386.4" width="71.8" height="61.2" fill="#377eb4"/>
<rect x="665.8" y="1386.4" width="71.8" height="61.2" fill="#70a7cc"/>
<rect x="737.1" y="1386.4" width="71.8" height="61.2" fill="#a6d0e3"/>
<rect x="808.4" y="1386.4" width="71.8" height="61.2" fill="#d3ebf2"/>
<rect x="879.6" y="1386.4" width="71.8" height="61.2" fill="#ffffff"/>
<rect x="950.9" y="1386.4" width="71.8" height="61.2" fill="#fde6e4"/>
<rect x="1022.1" y="1386.4" width="71.8" height="61.2" fill="#f9c8c3"/>
<rect x="1093.4" y="1386.4" width="71.8" height="61.2" fill="#ec9ea8"/>
<rect x="1164.7" y="1386.4" width="71.8" height="61.2" fill="#dd748f"/>
<rect x="1235.9" y="1386.4" width="71.3" height="61.2" fill="#cb466e"/>
<rect x="523.3" y="1386.4" width="783.9" height="61.2" fill="none" stroke="#2a2a2a" stroke-width="1.7"/>
<text x="522.8" y="1503.8" font-size="41.5" text-anchor="middle" fill="#222">-40</text>
<line x1="719.3" y1="1447.6" x2="719.3" y2="1440.1" stroke="#2a2a2a" stroke-width="1.7"/>
<text x="718.8" y="1503.8" font-size="41.5" text-anchor="middle" fill="#222">-20</text>
<line x1="915.2" y1="1447.6" x2="915.2" y2="1440.1" stroke="#2a2a2a" stroke-width="1.7"/>
<text x="914.8" y="1503.8" font-size="41.5" text-anchor="middle" fill="#222">0</text>
<line x1="1111.2" y1="1447.6" x2="1111.2" y2="1440.1" stroke="#2a2a2a" stroke-width="1.7"/>
<text x="1110.7" y="1503.8" font-size="41.5" text-anchor="middle" fill="#222">20</text>
<text x="1306.7" y="1503.8" font-size="41.5" text-anchor="middle" fill="#222">40</text>
<text x="187" y="1434" font-size="41.7" fill="#111">Power (mW m<tspan dx="3.5" dy="-19" font-size="31">-2</tspan><tspan dx="2" dy="19">)</tspan></text>
</svg>
</body></html>
